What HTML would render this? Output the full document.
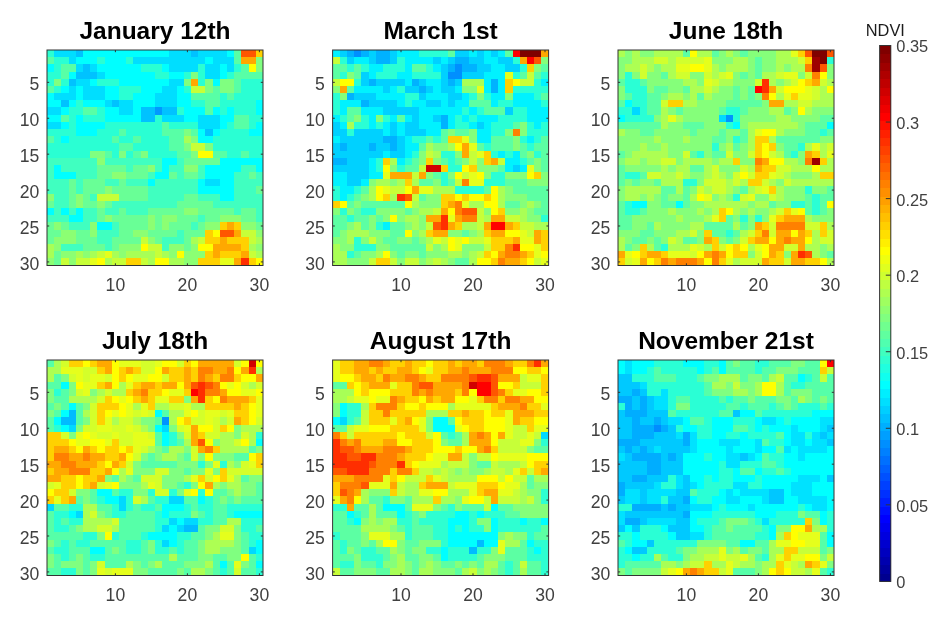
<!DOCTYPE html><html><head><meta charset="utf-8"><title>NDVI</title><style>html,body{margin:0;padding:0;background:#fff}svg{display:block}text{font-family:"Liberation Sans",Arial,Helvetica,sans-serif}.t{font-size:24.5px;font-weight:bold;fill:#000;text-anchor:middle}.x{font-size:17.6px;fill:#404040;text-anchor:middle}.y{font-size:17.6px;fill:#404040;text-anchor:end}.c{font-size:16.4px;fill:#404040}</style></head><body>
<svg width="944" height="624" viewBox="0 0 944 624">
<rect width="944" height="624" fill="#fff"/>
<defs><filter id="bl" x="-5%" y="-5%" width="110%" height="110%"><feGaussianBlur stdDeviation="0.55"/></filter></defs>
<clipPath id="cp0"><rect x="47" y="50" width="216" height="215.5"/></clipPath>
<g clip-path="url(#cp0)"><g filter="url(#bl)">
<svg x="47" y="50" width="216" height="215.5" viewBox="0 0 30 30" preserveAspectRatio="none" shape-rendering="crispEdges" overflow="visible">
<rect width="30" height="30" fill="#00ffff"/>
<path fill="#2cffd3" d="M0 0h1v1h-1zM1 1h2v1h-2zM7 1h1v1h-1zM11 1h1v1h-1zM1 2h1v1h-1zM13 2h3v1h-3zM21 2h1v1h-1zM26 2h1v1h-1zM0 3h2v1h-2zM15 3h2v1h-2zM19 3h1v1h-1zM21 3h1v1h-1zM25 3h1v1h-1zM0 4h1v1h-1zM2 4h1v1h-1zM7 4h3v1h-3zM21 4h1v1h-1zM27 4h3v1h-3zM1 5h1v1h-1zM10 5h3v1h-3zM19 5h1v1h-1zM27 5h3v1h-3zM10 6h2v1h-2zM24 6h1v1h-1zM26 6h4v1h-4zM4 7h1v1h-1zM20 7h2v1h-2zM24 7h5v1h-5zM3 8h2v1h-2zM7 8h1v1h-1zM18 8h1v1h-1zM24 8h1v1h-1zM26 8h3v1h-3zM3 9h1v1h-1zM5 9h3v1h-3zM15 9h1v1h-1zM28 9h2v1h-2zM3 10h1v1h-1zM8 10h8v1h-8zM17 10h4v1h-4zM25 10h1v1h-1zM28 10h1v1h-1zM0 11h4v1h-4zM7 11h3v1h-3zM11 11h5v1h-5zM24 11h4v1h-4zM1 12h1v1h-1zM3 12h6v1h-6zM10 12h2v1h-2zM13 12h4v1h-4zM23 12h7v1h-7zM0 13h10v1h-10zM12 13h5v1h-5zM23 13h7v1h-7zM0 14h6v1h-6zM9 14h1v1h-1zM11 14h1v1h-1zM14 14h4v1h-4zM25 14h2v1h-2zM28 14h2v1h-2z"/>
<path fill="#00deff" d="M1 0h3v1h-3zM17 0h3v1h-3zM21 0h4v1h-4zM3 1h1v1h-1zM12 1h10v1h-10zM23 1h3v1h-3zM4 2h1v1h-1zM6 2h1v1h-1zM17 2h4v1h-4zM22 2h2v1h-2zM25 2h1v1h-1zM7 3h1v1h-1zM22 3h2v1h-2zM4 4h2v1h-2zM17 4h2v1h-2zM3 5h1v1h-1zM5 5h3v1h-3zM16 5h2v1h-2zM1 6h3v1h-3zM5 6h3v1h-3zM15 6h3v1h-3zM8 7h1v1h-1zM10 7h2v1h-2zM15 7h3v1h-3zM0 8h2v1h-2zM10 8h2v1h-2zM16 9h3v1h-3zM21 9h3v1h-3zM0 10h2v1h-2zM21 10h3v1h-3zM22 18h2v1h-2z"/>
<path fill="#00c2ff" d="M4 0h1v1h-1zM20 0h1v1h-1zM5 2h1v1h-1zM4 3h3v1h-3zM3 4h1v1h-1zM2 7h1v1h-1zM9 7h1v1h-1zM13 8h2v1h-2zM16 8h2v1h-2zM13 9h2v1h-2zM22 11h1v1h-1z"/>
<path fill="#00ffff" d="M5 0h12v1h-12zM25 0h1v1h-1zM4 1h3v1h-3zM8 1h3v1h-3zM22 1h1v1h-1zM0 2h1v1h-1zM7 2h6v1h-6zM16 2h1v1h-1zM24 2h1v1h-1zM3 3h1v1h-1zM8 3h7v1h-7zM17 3h2v1h-2zM24 3h1v1h-1zM6 4h1v1h-1zM10 4h7v1h-7zM23 4h1v1h-1zM2 5h1v1h-1zM4 5h1v1h-1zM8 5h2v1h-2zM13 5h3v1h-3zM18 5h1v1h-1zM0 6h1v1h-1zM4 6h1v1h-1zM8 6h2v1h-2zM12 6h3v1h-3zM18 6h2v1h-2zM0 7h2v1h-2zM3 7h1v1h-1zM5 7h3v1h-3zM12 7h3v1h-3zM18 7h2v1h-2zM29 7h1v1h-1zM2 8h1v1h-1zM8 8h2v1h-2zM12 8h1v1h-1zM19 8h3v1h-3zM23 8h1v1h-1zM25 8h1v1h-1zM29 8h1v1h-1zM0 9h2v1h-2zM4 9h1v1h-1zM8 9h5v1h-5zM19 9h2v1h-2zM24 9h2v1h-2zM2 10h1v1h-1zM4 10h4v1h-4zM24 10h1v1h-1zM29 10h1v1h-1zM4 11h3v1h-3zM21 11h1v1h-1zM23 11h1v1h-1zM28 11h2v1h-2zM2 12h1v1h-1zM21 12h2v1h-2zM16 15h2v1h-2zM24 15h6v1h-6zM1 16h1v1h-1zM16 16h1v1h-1zM22 16h5v1h-5zM29 16h1v1h-1zM1 17h3v1h-3zM15 17h2v1h-2zM22 17h4v1h-4zM14 18h1v1h-1zM21 18h1v1h-1zM24 18h2v1h-2zM21 19h5v1h-5zM24 20h2v1h-2zM0 22h1v1h-1zM2 22h1v1h-1zM4 22h1v1h-1zM3 23h2v1h-2zM7 24h2v1h-2z"/>
<path fill="#59ffa6" d="M26 0h1v1h-1zM0 1h1v1h-1zM26 1h1v1h-1zM2 2h2v1h-2zM27 2h1v1h-1zM2 3h1v1h-1zM26 3h4v1h-4zM26 4h1v1h-1zM0 5h1v1h-1zM23 5h1v1h-1zM26 5h1v1h-1zM20 6h4v1h-4zM25 6h1v1h-1zM22 7h2v1h-2zM5 8h2v1h-2zM22 8h1v1h-1zM2 9h1v1h-1zM26 9h2v1h-2zM16 10h1v1h-1zM26 10h2v1h-2zM10 11h1v1h-1zM16 11h3v1h-3zM20 11h1v1h-1zM0 12h1v1h-1zM9 12h1v1h-1zM12 12h1v1h-1zM17 12h2v1h-2zM10 13h2v1h-2zM17 13h2v1h-2zM8 14h1v1h-1zM12 14h1v1h-1zM18 14h2v1h-2zM23 14h2v1h-2zM27 14h1v1h-1z"/>
<path fill="#ff5700" d="M27 0h2v1h-2zM24 25h2v1h-2z"/>
<path fill="#ffd100" d="M29 0h1v1h-1zM24 24h1v1h-1zM26 24h1v1h-1zM22 25h1v1h-1zM22 26h2v1h-2zM25 26h3v1h-3zM27 27h1v1h-1zM22 28h1v1h-1zM24 28h3v1h-3zM11 29h2v1h-2zM21 29h3v1h-3zM28 29h1v1h-1z"/>
<path fill="#ffa800" d="M27 1h2v1h-2zM20 4h1v1h-1zM25 24h1v1h-1zM26 25h1v1h-1zM24 26h1v1h-1zM23 27h4v1h-4zM23 28h1v1h-1zM27 28h1v1h-1zM26 29h1v1h-1z"/>
<path fill="#80ff80" d="M29 1h1v1h-1zM29 2h1v1h-1zM20 3h1v1h-1zM1 4h1v1h-1zM19 4h1v1h-1zM22 4h1v1h-1zM24 4h2v1h-2zM22 5h1v1h-1zM24 5h2v1h-2zM19 11h1v1h-1zM20 12h1v1h-1zM19 13h1v1h-1zM22 13h1v1h-1zM6 14h2v1h-2zM10 14h1v1h-1zM13 14h1v1h-1zM20 14h1v1h-1z"/>
<path fill="#ffff00" d="M28 2h1v1h-1zM21 14h2v1h-2zM23 25h1v1h-1zM13 27h1v1h-1zM21 27h2v1h-2zM18 28h1v1h-1zM7 29h1v1h-1zM15 29h2v1h-2zM29 29h1v1h-1z"/>
<path fill="#c7ff38" d="M20 5h2v1h-2zM20 13h2v1h-2zM7 20h3v1h-3zM27 25h2v1h-2zM13 26h1v1h-1zM21 26h1v1h-1zM28 26h1v1h-1zM14 27h2v1h-2zM7 28h1v1h-1zM15 28h1v1h-1zM28 28h1v1h-1zM2 29h1v1h-1zM4 29h2v1h-2zM9 29h2v1h-2zM13 29h1v1h-1z"/>
<path fill="#0099ff" d="M15 8h1v1h-1z"/>
<path fill="#a8ff57" d="M19 12h1v1h-1zM20 26h1v1h-1zM29 26h1v1h-1zM0 27h1v1h-1zM28 27h1v1h-1zM0 28h1v1h-1zM4 28h1v1h-1zM6 28h1v1h-1zM9 28h1v1h-1zM11 28h4v1h-4zM16 28h1v1h-1zM29 28h1v1h-1zM8 29h1v1h-1zM14 29h1v1h-1zM17 29h2v1h-2z"/>
<path fill="#3fffc0" d="M0 15h7v1h-7zM8 15h8v1h-8zM18 15h1v1h-1zM0 16h1v1h-1zM2 16h5v1h-5zM11 16h1v1h-1zM15 16h1v1h-1zM17 16h2v1h-2zM21 16h1v1h-1zM27 16h2v1h-2zM0 17h1v1h-1zM4 17h3v1h-3zM14 17h1v1h-1zM18 17h1v1h-1zM21 17h1v1h-1zM26 17h2v1h-2zM29 17h1v1h-1zM0 18h3v1h-3zM4 18h1v1h-1zM8 18h2v1h-2zM11 18h3v1h-3zM15 18h6v1h-6zM26 18h4v1h-4zM0 19h3v1h-3zM4 19h1v1h-1zM14 19h7v1h-7zM26 19h3v1h-3zM1 20h2v1h-2zM6 20h1v1h-1zM14 20h5v1h-5zM21 20h3v1h-3zM26 20h4v1h-4zM1 21h2v1h-2zM9 21h9v1h-9zM23 21h7v1h-7zM1 22h1v1h-1zM3 22h1v1h-1zM5 22h2v1h-2zM8 22h2v1h-2zM11 22h3v1h-3zM26 22h1v1h-1zM29 22h1v1h-1zM0 23h3v1h-3zM5 23h2v1h-2zM21 23h1v1h-1zM29 23h1v1h-1zM3 24h3v1h-3zM9 24h1v1h-1zM20 24h1v1h-1zM7 25h3v1h-3zM18 25h1v1h-1zM7 26h2v1h-2zM16 26h3v1h-3zM2 27h3v1h-3zM8 27h1v1h-1zM16 27h1v1h-1z"/>
<path fill="#8cff73" d="M7 15h1v1h-1zM14 16h1v1h-1zM19 16h2v1h-2zM9 17h2v1h-2zM8 19h1v1h-1zM0 20h1v1h-1zM4 20h1v1h-1zM4 21h1v1h-1zM7 21h1v1h-1zM19 22h2v1h-2zM8 23h1v1h-1zM14 23h1v1h-1zM16 23h2v1h-2zM24 23h3v1h-3zM1 24h1v1h-1zM6 24h1v1h-1zM14 24h1v1h-1zM16 24h1v1h-1zM22 24h2v1h-2zM27 24h2v1h-2zM2 25h2v1h-2zM6 25h1v1h-1zM12 25h2v1h-2zM29 25h1v1h-1zM1 26h3v1h-3zM14 26h1v1h-1zM1 27h1v1h-1zM10 27h3v1h-3zM17 27h2v1h-2zM20 27h1v1h-1zM29 27h1v1h-1zM2 28h2v1h-2zM5 28h1v1h-1zM10 28h1v1h-1zM17 28h1v1h-1zM19 28h3v1h-3zM0 29h1v1h-1zM3 29h1v1h-1zM19 29h2v1h-2z"/>
<path fill="#69ff96" d="M19 15h5v1h-5zM7 16h4v1h-4zM12 16h2v1h-2zM7 17h2v1h-2zM11 17h3v1h-3zM17 17h1v1h-1zM19 17h2v1h-2zM28 17h1v1h-1zM3 18h1v1h-1zM5 18h3v1h-3zM10 18h1v1h-1zM3 19h1v1h-1zM5 19h3v1h-3zM9 19h5v1h-5zM29 19h1v1h-1zM3 20h1v1h-1zM5 20h1v1h-1zM10 20h4v1h-4zM19 20h2v1h-2zM0 21h1v1h-1zM3 21h1v1h-1zM5 21h2v1h-2zM8 21h1v1h-1zM18 21h5v1h-5zM7 22h1v1h-1zM10 22h1v1h-1zM14 22h5v1h-5zM21 22h5v1h-5zM27 22h2v1h-2zM7 23h1v1h-1zM9 23h5v1h-5zM15 23h1v1h-1zM18 23h3v1h-3zM22 23h2v1h-2zM27 23h2v1h-2zM0 24h1v1h-1zM2 24h1v1h-1zM10 24h4v1h-4zM15 24h1v1h-1zM17 24h3v1h-3zM21 24h1v1h-1zM29 24h1v1h-1zM0 25h2v1h-2zM4 25h2v1h-2zM10 25h2v1h-2zM14 25h4v1h-4zM19 25h3v1h-3zM0 26h1v1h-1zM4 26h3v1h-3zM9 26h4v1h-4zM15 26h1v1h-1zM19 26h1v1h-1zM5 27h3v1h-3zM9 27h1v1h-1zM19 27h1v1h-1zM1 28h1v1h-1zM1 29h1v1h-1z"/>
<path fill="#e5ff1a" d="M8 28h1v1h-1zM6 29h1v1h-1zM24 29h2v1h-2z"/>
<path fill="#ff2e00" d="M27 29h1v1h-1z"/>
</svg></g></g>
<rect x="47" y="50" width="216" height="215.5" fill="none" stroke="#333" stroke-width="1"/>
<text class="x" x="115.4" y="291.0">10</text>
<text class="x" x="187.4" y="291.0">20</text>
<text class="x" x="259.4" y="291.0">30</text>
<text class="y" x="39.3" y="90.0">5</text>
<text class="y" x="39.3" y="125.9">10</text>
<text class="y" x="39.3" y="161.9">15</text>
<text class="y" x="39.3" y="197.8">20</text>
<text class="y" x="39.3" y="233.7">25</text>
<text class="y" x="39.3" y="269.6">30</text>
<path d="M115.40 265.50v-2.2M115.40 50.00v2.2M187.40 265.50v-2.2M187.40 50.00v2.2M259.40 265.50v-2.2M259.40 50.00v2.2M47.00 82.33h2.2M263.00 82.33h-2.2M47.00 118.24h2.2M263.00 118.24h-2.2M47.00 154.16h2.2M263.00 154.16h-2.2M47.00 190.08h2.2M263.00 190.08h-2.2M47.00 225.99h2.2M263.00 225.99h-2.2M47.00 261.91h2.2M263.00 261.91h-2.2" stroke="#333" stroke-width="1" fill="none"/>
<text class="t" x="155.0" y="39.0">January 12th</text>
<clipPath id="cp1"><rect x="332.6" y="50" width="216" height="215.5"/></clipPath>
<g clip-path="url(#cp1)"><g filter="url(#bl)">
<svg x="332.6" y="50" width="216" height="215.5" viewBox="0 0 30 30" preserveAspectRatio="none" shape-rendering="crispEdges" overflow="visible">
<rect width="30" height="30" fill="#00ffff"/>
<path fill="#00f2ff" d="M0 0h1v1h-1zM9 0h3v1h-3zM19 0h1v1h-1zM21 0h1v1h-1zM23 0h1v1h-1zM3 1h2v1h-2zM10 1h4v1h-4zM15 1h1v1h-1zM21 1h2v1h-2zM5 2h2v1h-2zM10 2h1v1h-1zM14 2h1v1h-1zM22 2h2v1h-2zM5 3h1v1h-1zM9 3h2v1h-2zM21 3h3v1h-3zM10 4h1v1h-1zM13 4h2v1h-2zM21 4h1v1h-1zM23 4h1v1h-1zM29 4h1v1h-1zM3 5h4v1h-4zM8 5h1v1h-1zM14 5h1v1h-1zM17 5h1v1h-1zM21 5h1v1h-1zM23 5h1v1h-1zM6 6h4v1h-4zM13 6h3v1h-3zM18 6h1v1h-1zM22 6h2v1h-2zM25 6h3v1h-3zM1 7h3v1h-3zM9 7h1v1h-1zM11 7h2v1h-2zM15 7h1v1h-1zM17 7h2v1h-2zM22 7h1v1h-1zM25 7h4v1h-4zM1 8h1v1h-1zM4 8h3v1h-3zM12 8h6v1h-6zM19 8h1v1h-1zM27 8h3v1h-3zM0 9h1v1h-1zM5 9h1v1h-1zM8 9h1v1h-1zM10 9h1v1h-1zM12 9h2v1h-2zM16 9h1v1h-1zM18 9h1v1h-1zM20 9h3v1h-3zM27 9h3v1h-3zM1 10h1v1h-1zM5 10h1v1h-1zM7 10h1v1h-1zM9 10h1v1h-1zM12 10h3v1h-3zM16 10h1v1h-1zM19 10h1v1h-1zM21 10h1v1h-1zM28 10h1v1h-1zM7 11h1v1h-1zM9 11h1v1h-1zM13 11h2v1h-2zM20 11h2v1h-2zM0 12h1v1h-1zM10 12h1v1h-1zM20 12h2v1h-2zM27 12h1v1h-1zM10 13h2v1h-2zM7 14h1v1h-1zM10 14h1v1h-1zM23 14h1v1h-1zM25 14h1v1h-1zM5 15h1v1h-1zM9 15h1v1h-1zM24 15h2v1h-2zM5 16h1v1h-1zM24 16h1v1h-1zM26 16h1v1h-1zM0 17h2v1h-2zM5 17h2v1h-2zM0 18h2v1h-2zM4 18h1v1h-1zM1 19h2v1h-2zM1 20h1v1h-1zM7 24h1v1h-1z"/>
<path fill="#00d1ff" d="M1 0h1v1h-1zM5 0h1v1h-1zM8 0h1v1h-1zM17 0h2v1h-2zM20 0h1v1h-1zM22 0h1v1h-1zM2 1h1v1h-1zM5 1h1v1h-1zM8 1h1v1h-1zM14 1h1v1h-1zM16 1h1v1h-1zM19 1h2v1h-2zM23 1h2v1h-2zM15 2h1v1h-1zM20 2h2v1h-2zM24 2h2v1h-2zM4 3h1v1h-1zM15 3h1v1h-1zM18 3h3v1h-3zM4 4h1v1h-1zM6 4h4v1h-4zM12 4h1v1h-1zM15 4h1v1h-1zM17 4h1v1h-1zM7 5h1v1h-1zM10 5h2v1h-2zM13 5h1v1h-1zM15 5h2v1h-2zM3 6h3v1h-3zM12 6h1v1h-1zM16 6h2v1h-2zM5 7h4v1h-4zM13 7h2v1h-2zM16 7h1v1h-1zM7 8h5v1h-5zM24 8h1v1h-1zM11 9h1v1h-1zM14 9h1v1h-1zM0 10h1v1h-1zM8 10h1v1h-1zM10 10h2v1h-2zM20 10h1v1h-1zM0 11h2v1h-2zM3 11h4v1h-4zM8 11h1v1h-1zM10 11h3v1h-3zM1 12h6v1h-6zM9 12h1v1h-1zM0 13h1v1h-1zM2 13h3v1h-3zM6 13h2v1h-2zM9 13h1v1h-1zM0 14h7v1h-7zM8 14h2v1h-2zM2 15h3v1h-3zM0 16h5v1h-5zM25 16h1v1h-1zM2 17h3v1h-3zM2 18h2v1h-2z"/>
<path fill="#00b2ff" d="M2 0h1v1h-1zM4 0h1v1h-1zM6 0h2v1h-2zM6 1h2v1h-2zM17 1h2v1h-2zM16 2h1v1h-1zM18 2h2v1h-2zM5 4h1v1h-1zM11 4h1v1h-1zM16 4h1v1h-1zM22 4h1v1h-1zM12 5h1v1h-1zM22 5h1v1h-1zM2 6h1v1h-1zM4 7h1v1h-1zM15 9h1v1h-1zM15 10h1v1h-1zM7 12h2v1h-2zM1 13h1v1h-1zM5 13h1v1h-1zM8 13h1v1h-1zM0 15h2v1h-2z"/>
<path fill="#008fff" d="M3 0h1v1h-1zM17 2h1v1h-1zM16 3h2v1h-2z"/>
<path fill="#2affd5" d="M12 0h4v1h-4zM1 1h1v1h-1zM9 1h1v1h-1zM25 1h1v1h-1zM2 2h1v1h-1zM4 2h1v1h-1zM7 2h3v1h-3zM13 2h1v1h-1zM26 2h1v1h-1zM1 3h1v1h-1zM6 3h3v1h-3zM11 3h4v1h-4zM25 3h1v1h-1zM29 3h1v1h-1zM3 4h1v1h-1zM28 4h1v1h-1zM9 5h1v1h-1zM25 5h5v1h-5zM0 6h1v1h-1zM10 6h2v1h-2zM19 6h1v1h-1zM21 6h1v1h-1zM28 6h1v1h-1zM0 7h1v1h-1zM10 7h1v1h-1zM23 7h2v1h-2zM29 7h1v1h-1zM0 8h1v1h-1zM18 8h1v1h-1zM20 8h1v1h-1zM25 8h2v1h-2zM1 9h1v1h-1zM4 9h1v1h-1zM7 9h1v1h-1zM17 9h1v1h-1zM19 9h1v1h-1zM23 9h4v1h-4zM3 10h2v1h-2zM6 10h1v1h-1zM17 10h2v1h-2zM22 10h3v1h-3zM27 10h1v1h-1zM29 10h1v1h-1zM2 11h1v1h-1zM22 11h2v1h-2zM27 11h3v1h-3zM11 12h2v1h-2zM14 12h1v1h-1zM26 12h1v1h-1zM28 12h1v1h-1zM21 13h1v1h-1zM27 13h1v1h-1zM11 14h1v1h-1zM15 14h2v1h-2zM22 14h1v1h-1zM24 14h1v1h-1zM28 14h1v1h-1zM6 15h1v1h-1zM10 15h1v1h-1zM16 15h1v1h-1zM26 15h1v1h-1zM6 16h1v1h-1zM9 16h1v1h-1zM16 16h2v1h-2zM15 17h1v1h-1zM22 17h2v1h-2zM15 18h1v1h-1zM21 18h3v1h-3zM0 19h1v1h-1zM3 19h1v1h-1zM17 19h4v1h-4zM0 20h1v1h-1zM2 20h1v1h-1zM1 22h1v1h-1zM4 22h2v1h-2zM2 23h1v1h-1zM29 23h1v1h-1zM6 24h1v1h-1zM3 26h1v1h-1zM3 27h3v1h-3zM2 28h1v1h-1z"/>
<path fill="#5cffa3" d="M16 0h1v1h-1zM24 0h1v1h-1zM0 2h2v1h-2zM3 2h1v1h-1zM11 2h2v1h-2zM29 2h1v1h-1zM0 3h1v1h-1zM3 3h1v1h-1zM26 3h1v1h-1zM28 3h1v1h-1zM2 5h1v1h-1zM29 6h1v1h-1zM19 7h3v1h-3zM2 8h2v1h-2zM21 8h3v1h-3zM2 9h1v1h-1zM9 9h1v1h-1zM25 10h1v1h-1zM15 11h1v1h-1zM17 11h2v1h-2zM13 12h1v1h-1zM15 12h1v1h-1zM22 12h3v1h-3zM29 12h1v1h-1zM12 13h1v1h-1zM20 13h1v1h-1zM22 13h3v1h-3zM26 13h1v1h-1zM28 13h2v1h-2zM26 14h1v1h-1zM29 14h1v1h-1zM11 15h1v1h-1zM15 15h1v1h-1zM17 15h1v1h-1zM27 15h1v1h-1zM29 15h1v1h-1zM10 16h2v1h-2zM23 16h1v1h-1zM29 16h1v1h-1zM14 17h1v1h-1zM12 18h2v1h-2zM16 18h1v1h-1zM24 18h3v1h-3zM4 19h1v1h-1zM21 19h1v1h-1zM25 19h5v1h-5zM3 20h1v1h-1zM12 20h1v1h-1zM27 20h3v1h-3zM2 21h1v1h-1zM4 21h6v1h-6zM24 21h2v1h-2zM29 21h1v1h-1zM3 22h1v1h-1zM10 22h1v1h-1zM28 22h2v1h-2zM0 23h2v1h-2zM3 23h2v1h-2zM6 23h1v1h-1zM0 24h2v1h-2zM4 24h1v1h-1zM8 24h2v1h-2zM0 25h1v1h-1zM8 25h2v1h-2zM18 25h1v1h-1zM7 26h2v1h-2zM11 26h1v1h-1zM8 27h5v1h-5zM3 28h1v1h-1zM9 28h1v1h-1zM12 28h1v1h-1zM17 29h2v1h-2z"/>
<path fill="#ff0000" d="M25 0h1v1h-1zM27 1h1v1h-1zM22 24h2v1h-2z"/>
<path fill="#800000" d="M26 0h3v1h-3z"/>
<path fill="#ffa800" d="M29 0h1v1h-1zM26 1h1v1h-1zM1 5h1v1h-1zM18 13h1v1h-1zM18 14h1v1h-1zM22 15h1v1h-1zM8 17h3v1h-3zM12 17h1v1h-1zM11 19h1v1h-1zM16 21h1v1h-1zM15 22h1v1h-1zM13 23h2v1h-2zM17 23h1v1h-1zM22 23h2v1h-2zM16 24h1v1h-1zM21 24h1v1h-1zM24 24h1v1h-1zM14 25h2v1h-2zM22 25h2v1h-2zM28 25h1v1h-1zM25 26h1v1h-1zM28 26h1v1h-1zM23 28h1v1h-1zM26 28h1v1h-1zM24 29h2v1h-2z"/>
<path fill="#c7ff38" d="M0 1h1v1h-1zM27 3h1v1h-1zM0 4h1v1h-1zM26 4h2v1h-2zM13 14h1v1h-1zM19 14h1v1h-1zM19 15h1v1h-1zM23 15h1v1h-1zM12 16h1v1h-1zM11 17h1v1h-1zM18 17h1v1h-1zM17 18h1v1h-1zM8 19h2v1h-2zM11 20h1v1h-1zM14 22h1v1h-1zM20 22h1v1h-1zM20 23h1v1h-1zM24 23h2v1h-2zM13 24h1v1h-1zM20 24h1v1h-1zM26 24h2v1h-2zM27 25h1v1h-1zM5 26h1v1h-1zM15 26h1v1h-1zM19 26h2v1h-2zM13 27h1v1h-1zM21 27h1v1h-1zM20 28h1v1h-1zM5 29h1v1h-1zM8 29h1v1h-1zM10 29h2v1h-2zM14 29h1v1h-1zM28 29h1v1h-1z"/>
<path fill="#ff5700" d="M28 1h1v1h-1zM10 20h1v1h-1zM18 22h2v1h-2zM14 24h1v1h-1z"/>
<path fill="#85ff7a" d="M29 1h1v1h-1zM28 2h1v1h-1zM2 3h1v1h-1zM0 5h1v1h-1zM18 5h2v1h-2zM1 6h1v1h-1zM20 6h1v1h-1zM24 6h1v1h-1zM3 9h1v1h-1zM6 9h1v1h-1zM26 10h1v1h-1zM16 11h1v1h-1zM19 11h1v1h-1zM24 11h1v1h-1zM26 11h1v1h-1zM19 12h1v1h-1zM25 12h1v1h-1zM14 13h2v1h-2zM25 13h1v1h-1zM12 14h1v1h-1zM17 14h1v1h-1zM27 14h1v1h-1zM12 15h1v1h-1zM14 15h1v1h-1zM18 15h1v1h-1zM20 15h1v1h-1zM28 15h1v1h-1zM8 16h1v1h-1zM20 16h3v1h-3zM28 16h1v1h-1zM13 17h1v1h-1zM16 17h1v1h-1zM21 17h1v1h-1zM24 17h3v1h-3zM29 17h1v1h-1zM5 18h1v1h-1zM8 18h1v1h-1zM14 18h1v1h-1zM27 18h3v1h-3zM24 19h1v1h-1zM4 20h1v1h-1zM13 20h2v1h-2zM24 20h3v1h-3zM3 21h1v1h-1zM12 21h3v1h-3zM26 21h1v1h-1zM28 21h1v1h-1zM0 22h1v1h-1zM2 22h1v1h-1zM6 22h4v1h-4zM11 22h1v1h-1zM21 22h1v1h-1zM24 22h2v1h-2zM27 22h1v1h-1zM5 23h1v1h-1zM7 23h1v1h-1zM9 23h1v1h-1zM12 23h1v1h-1zM27 23h2v1h-2zM2 24h1v1h-1zM5 24h1v1h-1zM10 24h1v1h-1zM12 24h1v1h-1zM1 25h1v1h-1zM5 25h3v1h-3zM11 25h1v1h-1zM16 25h2v1h-2zM19 25h1v1h-1zM0 26h2v1h-2zM4 26h1v1h-1zM6 26h1v1h-1zM9 26h2v1h-2zM12 26h1v1h-1zM1 27h2v1h-2zM6 27h2v1h-2zM14 27h1v1h-1zM18 27h3v1h-3zM4 28h2v1h-2zM8 28h1v1h-1zM10 28h2v1h-2zM13 28h3v1h-3zM18 28h1v1h-1zM2 29h3v1h-3zM9 29h1v1h-1zM12 29h1v1h-1zM16 29h1v1h-1z"/>
<path fill="#ffd100" d="M27 2h1v1h-1zM24 4h1v1h-1zM24 5h1v1h-1zM16 12h2v1h-2zM21 14h1v1h-1zM7 15h1v1h-1zM13 15h1v1h-1zM21 15h1v1h-1zM15 16h1v1h-1zM19 16h1v1h-1zM28 17h1v1h-1zM10 18h1v1h-1zM7 20h1v1h-1zM15 20h2v1h-2zM18 20h1v1h-1zM21 20h1v1h-1zM0 21h1v1h-1zM15 21h1v1h-1zM23 22h1v1h-1zM17 24h1v1h-1zM25 24h1v1h-1zM13 25h1v1h-1zM21 25h1v1h-1zM29 25h1v1h-1zM22 26h3v1h-3zM29 26h1v1h-1zM22 27h2v1h-2zM29 27h1v1h-1zM21 28h1v1h-1zM27 28h1v1h-1zM6 29h2v1h-2zM22 29h1v1h-1zM26 29h1v1h-1z"/>
<path fill="#e5ff1a" d="M24 3h1v1h-1zM20 5h1v1h-1zM18 12h1v1h-1zM19 13h1v1h-1zM20 14h1v1h-1zM27 16h1v1h-1zM7 17h1v1h-1zM19 17h1v1h-1zM19 18h2v1h-2zM7 19h1v1h-1zM12 19h2v1h-2zM18 21h1v1h-1zM16 23h1v1h-1zM26 25h1v1h-1zM14 26h1v1h-1zM17 26h1v1h-1zM21 26h1v1h-1zM26 26h2v1h-2zM17 27h1v1h-1zM28 27h1v1h-1zM28 28h1v1h-1zM29 29h1v1h-1z"/>
<path fill="#ffff00" d="M1 4h2v1h-2zM25 4h1v1h-1zM17 13h1v1h-1zM7 16h1v1h-1zM18 16h1v1h-1zM17 17h1v1h-1zM20 17h1v1h-1zM27 17h1v1h-1zM6 19h1v1h-1zM10 19h1v1h-1zM22 19h1v1h-1zM6 20h1v1h-1zM17 20h1v1h-1zM19 20h2v1h-2zM22 20h1v1h-1zM1 21h1v1h-1zM10 21h1v1h-1zM21 21h2v1h-2zM16 22h1v1h-1zM22 22h1v1h-1zM8 23h1v1h-1zM10 25h1v1h-1zM24 25h2v1h-2zM16 26h1v1h-1zM18 26h1v1h-1zM16 27h1v1h-1zM26 27h2v1h-2zM7 28h1v1h-1zM22 28h1v1h-1zM29 28h1v1h-1zM20 29h2v1h-2zM27 29h1v1h-1z"/>
<path fill="#aaff55" d="M18 4h3v1h-3zM2 10h1v1h-1zM13 13h1v1h-1zM16 13h1v1h-1zM14 14h1v1h-1zM8 15h1v1h-1zM6 18h2v1h-2zM9 18h1v1h-1zM11 18h1v1h-1zM5 19h1v1h-1zM14 19h3v1h-3zM23 19h1v1h-1zM5 20h1v1h-1zM8 20h1v1h-1zM23 20h1v1h-1zM11 21h1v1h-1zM19 21h2v1h-2zM23 21h1v1h-1zM27 21h1v1h-1zM12 22h2v1h-2zM26 22h1v1h-1zM10 23h2v1h-2zM21 23h1v1h-1zM26 23h1v1h-1zM3 24h1v1h-1zM11 24h1v1h-1zM18 24h2v1h-2zM28 24h2v1h-2zM2 25h3v1h-3zM12 25h1v1h-1zM20 25h1v1h-1zM2 26h1v1h-1zM13 26h1v1h-1zM0 27h1v1h-1zM15 27h1v1h-1zM0 28h2v1h-2zM6 28h1v1h-1zM16 28h2v1h-2zM19 28h1v1h-1zM0 29h2v1h-2zM13 29h1v1h-1zM15 29h1v1h-1zM19 29h1v1h-1z"/>
<path fill="#ff8000" d="M25 11h1v1h-1zM18 18h1v1h-1zM17 21h1v1h-1zM17 22h1v1h-1zM18 23h2v1h-2zM24 27h1v1h-1zM24 28h2v1h-2zM23 29h1v1h-1z"/>
<path fill="#d10000" d="M13 16h2v1h-2z"/>
<path fill="#ff2e00" d="M9 20h1v1h-1zM15 23h1v1h-1zM15 24h1v1h-1zM25 27h1v1h-1z"/>
</svg></g></g>
<rect x="332.6" y="50" width="216" height="215.5" fill="none" stroke="#333" stroke-width="1"/>
<text class="x" x="401.0" y="291.0">10</text>
<text class="x" x="473.0" y="291.0">20</text>
<text class="x" x="545.0" y="291.0">30</text>
<text class="y" x="324.9" y="90.0">5</text>
<text class="y" x="324.9" y="125.9">10</text>
<text class="y" x="324.9" y="161.9">15</text>
<text class="y" x="324.9" y="197.8">20</text>
<text class="y" x="324.9" y="233.7">25</text>
<text class="y" x="324.9" y="269.6">30</text>
<path d="M401.00 265.50v-2.2M401.00 50.00v2.2M473.00 265.50v-2.2M473.00 50.00v2.2M545.00 265.50v-2.2M545.00 50.00v2.2M332.60 82.33h2.2M548.60 82.33h-2.2M332.60 118.24h2.2M548.60 118.24h-2.2M332.60 154.16h2.2M548.60 154.16h-2.2M332.60 190.08h2.2M548.60 190.08h-2.2M332.60 225.99h2.2M548.60 225.99h-2.2M332.60 261.91h2.2M548.60 261.91h-2.2" stroke="#333" stroke-width="1" fill="none"/>
<text class="t" x="440.6" y="39.0">March 1st</text>
<clipPath id="cp2"><rect x="618" y="50" width="216" height="215.5"/></clipPath>
<g clip-path="url(#cp2)"><g filter="url(#bl)">
<svg x="618" y="50" width="216" height="215.5" viewBox="0 0 30 30" preserveAspectRatio="none" shape-rendering="crispEdges" overflow="visible">
<rect width="30" height="30" fill="#00ffff"/>
<path fill="#adff52" d="M0 0h1v1h-1zM2 0h1v1h-1zM5 0h4v1h-4zM11 0h2v1h-2zM15 0h1v1h-1zM22 0h2v1h-2zM2 1h3v1h-3zM7 1h1v1h-1zM16 1h2v1h-2zM22 1h3v1h-3zM1 2h2v1h-2zM4 2h1v1h-1zM6 2h2v1h-2zM13 2h1v1h-1zM15 2h3v1h-3zM22 2h1v1h-1zM24 2h2v1h-2zM7 3h1v1h-1zM13 3h1v1h-1zM20 3h2v1h-2zM9 4h2v1h-2zM14 4h2v1h-2zM21 4h1v1h-1zM23 4h1v1h-1zM29 4h1v1h-1zM10 5h2v1h-2zM13 5h1v1h-1zM28 5h1v1h-1zM7 6h2v1h-2zM10 6h1v1h-1zM12 6h1v1h-1zM22 6h1v1h-1zM28 6h2v1h-2zM9 7h2v1h-2zM23 7h2v1h-2zM27 7h3v1h-3zM6 8h1v1h-1zM21 8h2v1h-2zM26 8h1v1h-1zM6 9h1v1h-1zM8 9h1v1h-1zM22 9h2v1h-2zM6 10h1v1h-1zM18 10h7v1h-7zM0 11h1v1h-1zM18 11h1v1h-1zM22 11h1v1h-1zM5 12h1v1h-1zM9 12h1v1h-1zM18 12h1v1h-1zM21 12h1v1h-1zM3 13h1v1h-1zM6 13h1v1h-1zM15 13h1v1h-1zM18 13h1v1h-1zM26 13h1v1h-1zM28 13h1v1h-1zM2 14h5v1h-5zM22 14h1v1h-1zM28 14h1v1h-1zM1 15h2v1h-2zM4 15h2v1h-2zM9 15h4v1h-4zM14 15h2v1h-2zM23 15h2v1h-2zM29 15h1v1h-1zM6 16h1v1h-1zM8 16h2v1h-2zM12 16h1v1h-1zM18 16h1v1h-1zM24 16h3v1h-3zM28 16h2v1h-2zM6 17h2v1h-2zM9 17h1v1h-1zM12 17h1v1h-1zM14 17h1v1h-1zM23 17h1v1h-1zM27 17h1v1h-1zM6 18h3v1h-3zM15 18h1v1h-1zM17 18h1v1h-1zM21 18h1v1h-1zM24 18h6v1h-6zM1 19h5v1h-5zM8 19h1v1h-1zM12 19h1v1h-1zM15 19h1v1h-1zM18 19h1v1h-1zM22 19h1v1h-1zM1 20h2v1h-2zM4 20h1v1h-1zM10 20h1v1h-1zM14 20h1v1h-1zM22 20h1v1h-1zM12 21h6v1h-6zM19 21h2v1h-2zM7 22h1v1h-1zM11 22h1v1h-1zM13 22h1v1h-1zM16 22h1v1h-1zM18 22h1v1h-1zM21 22h1v1h-1zM8 23h1v1h-1zM12 23h1v1h-1zM26 23h1v1h-1zM5 24h1v1h-1zM10 24h2v1h-2zM16 24h1v1h-1zM29 24h1v1h-1zM8 25h2v1h-2zM17 25h1v1h-1zM27 25h1v1h-1zM0 26h1v1h-1zM8 26h1v1h-1zM27 26h1v1h-1zM0 27h1v1h-1zM4 27h1v1h-1zM7 27h3v1h-3zM12 27h1v1h-1zM18 27h1v1h-1zM26 27h2v1h-2zM29 27h1v1h-1zM27 28h1v1h-1zM16 29h1v1h-1zM29 29h1v1h-1z"/>
<path fill="#85ff7a" d="M1 0h1v1h-1zM3 0h2v1h-2zM14 0h1v1h-1zM16 0h1v1h-1zM18 0h4v1h-4zM0 1h2v1h-2zM13 1h3v1h-3zM18 1h1v1h-1zM20 1h2v1h-2zM0 2h1v1h-1zM5 2h1v1h-1zM14 2h1v1h-1zM18 2h1v1h-1zM20 2h2v1h-2zM23 2h1v1h-1zM29 2h1v1h-1zM0 3h1v1h-1zM2 3h1v1h-1zM4 3h2v1h-2zM10 3h2v1h-2zM16 3h1v1h-1zM18 3h1v1h-1zM25 3h1v1h-1zM29 3h1v1h-1zM4 4h5v1h-5zM11 4h1v1h-1zM16 4h3v1h-3zM22 4h1v1h-1zM0 5h1v1h-1zM4 5h1v1h-1zM7 5h2v1h-2zM14 5h2v1h-2zM17 5h1v1h-1zM0 6h1v1h-1zM6 6h1v1h-1zM9 6h1v1h-1zM13 6h3v1h-3zM17 6h1v1h-1zM19 6h1v1h-1zM11 7h4v1h-4zM20 7h1v1h-1zM7 8h1v1h-1zM9 8h5v1h-5zM18 8h3v1h-3zM24 8h1v1h-1zM27 8h3v1h-3zM5 9h1v1h-1zM9 9h5v1h-5zM17 9h5v1h-5zM24 9h4v1h-4zM7 10h2v1h-2zM12 10h3v1h-3zM17 10h1v1h-1zM25 10h1v1h-1zM1 11h2v1h-2zM5 11h5v1h-5zM11 11h3v1h-3zM15 11h2v1h-2zM23 11h3v1h-3zM0 12h5v1h-5zM6 12h3v1h-3zM10 12h3v1h-3zM15 12h1v1h-1zM28 12h2v1h-2zM0 13h3v1h-3zM4 13h2v1h-2zM7 13h6v1h-6zM14 13h1v1h-1zM17 13h1v1h-1zM22 13h1v1h-1zM1 14h1v1h-1zM7 14h2v1h-2zM12 14h1v1h-1zM16 14h2v1h-2zM25 14h1v1h-1zM0 15h1v1h-1zM3 15h1v1h-1zM8 15h1v1h-1zM13 15h1v1h-1zM17 15h2v1h-2zM25 15h1v1h-1zM1 16h5v1h-5zM7 16h1v1h-1zM14 16h3v1h-3zM10 17h2v1h-2zM15 17h1v1h-1zM24 17h3v1h-3zM1 18h1v1h-1zM3 18h2v1h-2zM11 18h1v1h-1zM22 18h1v1h-1zM0 19h1v1h-1zM10 19h1v1h-1zM16 19h1v1h-1zM23 19h3v1h-3zM27 19h2v1h-2zM0 20h1v1h-1zM3 20h1v1h-1zM5 20h1v1h-1zM7 20h2v1h-2zM13 20h1v1h-1zM15 20h1v1h-1zM19 20h2v1h-2zM23 20h3v1h-3zM4 21h2v1h-2zM10 21h2v1h-2zM18 21h1v1h-1zM22 21h2v1h-2zM4 22h3v1h-3zM8 22h3v1h-3zM12 22h1v1h-1zM17 22h1v1h-1zM19 22h2v1h-2zM29 22h1v1h-1zM2 23h6v1h-6zM9 23h3v1h-3zM16 23h1v1h-1zM18 23h1v1h-1zM20 23h1v1h-1zM27 23h3v1h-3zM2 24h2v1h-2zM6 24h4v1h-4zM18 24h1v1h-1zM0 25h3v1h-3zM5 25h3v1h-3zM11 25h1v1h-1zM1 26h1v1h-1zM4 26h1v1h-1zM6 26h1v1h-1zM11 26h1v1h-1zM14 26h1v1h-1zM16 26h1v1h-1zM2 27h1v1h-1zM28 27h1v1h-1zM18 28h1v1h-1zM23 28h1v1h-1zM28 28h1v1h-1z"/>
<path fill="#5cffa3" d="M9 0h1v1h-1zM13 0h1v1h-1zM17 0h1v1h-1zM19 1h1v1h-1zM19 2h1v1h-1zM6 3h1v1h-1zM17 3h1v1h-1zM19 3h1v1h-1zM0 4h1v1h-1zM3 4h1v1h-1zM5 5h2v1h-2zM9 5h1v1h-1zM16 5h1v1h-1zM18 5h1v1h-1zM1 6h1v1h-1zM4 6h2v1h-2zM11 6h1v1h-1zM16 6h1v1h-1zM18 6h1v1h-1zM0 7h1v1h-1zM4 7h2v1h-2zM15 7h5v1h-5zM4 8h2v1h-2zM8 8h1v1h-1zM14 8h1v1h-1zM17 8h1v1h-1zM23 8h1v1h-1zM28 9h2v1h-2zM0 10h6v1h-6zM9 10h3v1h-3zM26 10h3v1h-3zM3 11h2v1h-2zM10 11h1v1h-1zM14 11h1v1h-1zM17 11h1v1h-1zM26 11h2v1h-2zM29 11h1v1h-1zM13 12h2v1h-2zM17 12h1v1h-1zM22 12h6v1h-6zM16 13h1v1h-1zM23 13h2v1h-2zM0 14h1v1h-1zM10 14h1v1h-1zM13 14h2v1h-2zM23 14h1v1h-1zM0 16h1v1h-1zM10 16h2v1h-2zM0 17h1v1h-1zM3 17h1v1h-1zM0 18h1v1h-1zM2 18h1v1h-1zM5 18h1v1h-1zM6 19h2v1h-2zM9 19h1v1h-1zM17 19h1v1h-1zM29 19h1v1h-1zM6 20h1v1h-1zM9 20h1v1h-1zM26 20h1v1h-1zM28 20h2v1h-2zM0 21h1v1h-1zM6 21h2v1h-2zM9 21h1v1h-1zM21 21h1v1h-1zM26 21h1v1h-1zM28 21h1v1h-1zM0 22h1v1h-1zM3 22h1v1h-1zM26 22h1v1h-1zM28 22h1v1h-1zM0 23h2v1h-2zM15 23h1v1h-1zM0 24h2v1h-2zM4 24h1v1h-1zM12 24h4v1h-4zM17 24h1v1h-1zM3 25h2v1h-2zM13 25h2v1h-2zM16 25h1v1h-1zM2 26h2v1h-2zM5 26h1v1h-1zM9 26h2v1h-2zM15 26h1v1h-1zM1 27h1v1h-1zM5 27h1v1h-1zM29 28h1v1h-1z"/>
<path fill="#ffff00" d="M10 0h1v1h-1zM10 2h2v1h-2zM28 3h1v1h-1zM25 4h1v1h-1zM23 5h3v1h-3zM29 5h1v1h-1zM21 6h1v1h-1zM25 8h1v1h-1zM20 11h2v1h-2zM20 13h1v1h-1zM20 14h1v1h-1zM21 15h2v1h-2zM27 16h1v1h-1zM17 17h1v1h-1zM11 20h1v1h-1zM29 21h1v1h-1zM15 22h1v1h-1zM25 22h1v1h-1zM24 25h1v1h-1zM21 26h1v1h-1zM26 26h1v1h-1zM15 27h1v1h-1zM17 27h1v1h-1zM20 27h1v1h-1zM2 28h1v1h-1zM11 28h1v1h-1zM15 28h1v1h-1zM20 28h1v1h-1zM4 29h1v1h-1zM12 29h1v1h-1zM28 29h1v1h-1z"/>
<path fill="#e5ff1a" d="M24 0h1v1h-1zM12 1h1v1h-1zM8 2h2v1h-2zM12 2h1v1h-1zM15 3h1v1h-1zM23 3h2v1h-2zM12 4h1v1h-1zM26 5h1v1h-1zM23 6h1v1h-1zM25 6h2v1h-2zM7 9h1v1h-1zM19 11h1v1h-1zM27 13h1v1h-1zM29 14h1v1h-1zM21 17h1v1h-1zM20 19h1v1h-1zM12 20h1v1h-1zM18 20h1v1h-1zM24 22h1v1h-1zM13 23h1v1h-1zM21 23h1v1h-1zM10 27h1v1h-1zM19 27h1v1h-1zM1 28h1v1h-1zM7 28h3v1h-3zM2 29h1v1h-1zM15 29h1v1h-1z"/>
<path fill="#ffd100" d="M25 0h1v1h-1zM26 1h1v1h-1zM26 4h1v1h-1zM24 6h1v1h-1zM7 7h2v1h-2zM19 12h2v1h-2zM19 13h1v1h-1zM21 13h1v1h-1zM19 14h1v1h-1zM27 14h1v1h-1zM16 15h1v1h-1zM28 15h1v1h-1zM20 16h2v1h-2zM19 17h2v1h-2zM28 17h2v1h-2zM18 18h2v1h-2zM21 19h1v1h-1zM14 22h1v1h-1zM23 22h1v1h-1zM14 23h1v1h-1zM22 23h1v1h-1zM20 24h1v1h-1zM28 24h1v1h-1zM12 25h1v1h-1zM19 25h1v1h-1zM26 25h1v1h-1zM28 25h1v1h-1zM13 26h1v1h-1zM18 26h1v1h-1zM3 27h1v1h-1zM13 27h1v1h-1zM16 27h1v1h-1zM3 28h1v1h-1zM6 28h1v1h-1zM16 28h2v1h-2zM22 28h1v1h-1zM0 29h1v1h-1zM5 29h1v1h-1zM14 29h1v1h-1zM21 29h2v1h-2zM26 29h2v1h-2z"/>
<path fill="#ff5700" d="M26 0h1v1h-1zM29 0h1v1h-1zM28 2h1v1h-1zM26 28h1v1h-1z"/>
<path fill="#800000" d="M27 0h2v1h-2zM28 1h1v1h-1z"/>
<path fill="#d1ff2e" d="M5 1h2v1h-2zM8 1h4v1h-4zM25 1h1v1h-1zM3 2h1v1h-1zM3 3h1v1h-1zM8 3h2v1h-2zM12 3h1v1h-1zM14 3h1v1h-1zM22 3h1v1h-1zM26 3h1v1h-1zM13 4h1v1h-1zM19 4h1v1h-1zM24 4h1v1h-1zM28 4h1v1h-1zM12 5h1v1h-1zM22 5h1v1h-1zM27 5h1v1h-1zM27 6h1v1h-1zM6 7h1v1h-1zM25 7h2v1h-2zM29 13h1v1h-1zM9 14h1v1h-1zM15 14h1v1h-1zM18 14h1v1h-1zM21 14h1v1h-1zM6 15h2v1h-2zM13 16h1v1h-1zM17 16h1v1h-1zM22 16h2v1h-2zM4 17h2v1h-2zM8 17h1v1h-1zM13 17h1v1h-1zM16 17h1v1h-1zM18 17h1v1h-1zM22 17h1v1h-1zM12 18h3v1h-3zM16 18h1v1h-1zM20 18h1v1h-1zM23 18h1v1h-1zM11 19h1v1h-1zM13 19h2v1h-2zM19 19h1v1h-1zM17 20h1v1h-1zM21 20h1v1h-1zM22 22h1v1h-1zM21 24h1v1h-1zM26 24h2v1h-2zM10 25h1v1h-1zM18 25h1v1h-1zM21 25h1v1h-1zM29 25h1v1h-1zM7 26h1v1h-1zM17 26h1v1h-1zM28 26h2v1h-2zM11 27h1v1h-1zM14 27h1v1h-1zM23 27h2v1h-2zM10 28h1v1h-1zM19 28h1v1h-1zM1 29h1v1h-1zM17 29h3v1h-3zM23 29h1v1h-1z"/>
<path fill="#9e0000" d="M27 1h1v1h-1zM27 2h1v1h-1zM27 15h1v1h-1z"/>
<path fill="#2affd5" d="M29 1h1v1h-1zM1 3h1v1h-1zM1 4h2v1h-2zM1 5h3v1h-3zM2 6h2v1h-2zM2 7h2v1h-2zM0 8h2v1h-2zM3 8h1v1h-1zM15 8h2v1h-2zM1 9h4v1h-4zM16 9h1v1h-1zM15 10h1v1h-1zM28 11h1v1h-1zM16 12h1v1h-1zM13 13h1v1h-1zM25 13h1v1h-1zM11 14h1v1h-1zM24 14h1v1h-1zM1 17h2v1h-2zM9 18h2v1h-2zM26 19h1v1h-1zM16 20h1v1h-1zM27 20h1v1h-1zM1 21h1v1h-1zM24 21h2v1h-2zM27 21h1v1h-1zM1 22h2v1h-2zM27 22h1v1h-1zM17 23h1v1h-1zM19 23h1v1h-1zM15 25h1v1h-1zM6 27h1v1h-1z"/>
<path fill="#ff8000" d="M26 2h1v1h-1zM27 3h1v1h-1zM20 6h1v1h-1zM19 15h1v1h-1zM26 15h1v1h-1zM22 24h4v1h-4zM20 25h1v1h-1zM23 26h1v1h-1zM13 28h1v1h-1zM6 29h1v1h-1zM8 29h3v1h-3zM13 29h1v1h-1z"/>
<path fill="#ff2e00" d="M20 4h1v1h-1zM20 5h1v1h-1zM25 28h1v1h-1z"/>
<path fill="#ffa800" d="M27 4h1v1h-1zM21 5h1v1h-1zM21 7h2v1h-2zM26 14h1v1h-1zM20 15h1v1h-1zM19 16h1v1h-1zM23 23h3v1h-3zM19 24h1v1h-1zM22 25h2v1h-2zM25 25h1v1h-1zM12 26h1v1h-1zM19 26h2v1h-2zM22 26h1v1h-1zM24 26h2v1h-2zM21 27h2v1h-2zM25 27h1v1h-1zM0 28h1v1h-1zM4 28h2v1h-2zM12 28h1v1h-1zM14 28h1v1h-1zM21 28h1v1h-1zM24 28h1v1h-1zM3 29h1v1h-1zM7 29h1v1h-1zM11 29h1v1h-1zM20 29h1v1h-1zM24 29h2v1h-2z"/>
<path fill="#ff0000" d="M19 5h1v1h-1z"/>
<path fill="#00ffff" d="M1 7h1v1h-1zM0 9h1v1h-1zM16 10h1v1h-1zM29 10h1v1h-1zM2 21h2v1h-2zM8 21h1v1h-1z"/>
<path fill="#00d9ff" d="M2 8h1v1h-1zM14 9h1v1h-1z"/>
<path fill="#0094ff" d="M15 9h1v1h-1z"/>
</svg></g></g>
<rect x="618" y="50" width="216" height="215.5" fill="none" stroke="#333" stroke-width="1"/>
<text class="x" x="686.4" y="291.0">10</text>
<text class="x" x="758.4" y="291.0">20</text>
<text class="x" x="830.4" y="291.0">30</text>
<text class="y" x="610.3" y="90.0">5</text>
<text class="y" x="610.3" y="125.9">10</text>
<text class="y" x="610.3" y="161.9">15</text>
<text class="y" x="610.3" y="197.8">20</text>
<text class="y" x="610.3" y="233.7">25</text>
<text class="y" x="610.3" y="269.6">30</text>
<path d="M686.40 265.50v-2.2M686.40 50.00v2.2M758.40 265.50v-2.2M758.40 50.00v2.2M830.40 265.50v-2.2M830.40 50.00v2.2M618.00 82.33h2.2M834.00 82.33h-2.2M618.00 118.24h2.2M834.00 118.24h-2.2M618.00 154.16h2.2M834.00 154.16h-2.2M618.00 190.08h2.2M834.00 190.08h-2.2M618.00 225.99h2.2M834.00 225.99h-2.2M618.00 261.91h2.2M834.00 261.91h-2.2" stroke="#333" stroke-width="1" fill="none"/>
<text class="t" x="726.0" y="39.0">June 18th</text>
<clipPath id="cp3"><rect x="47" y="360" width="216" height="215.5"/></clipPath>
<g clip-path="url(#cp3)"><g filter="url(#bl)">
<svg x="47" y="360" width="216" height="215.5" viewBox="0 0 30 30" preserveAspectRatio="none" shape-rendering="crispEdges" overflow="visible">
<rect width="30" height="30" fill="#00ffff"/>
<path fill="#57ffa8" d="M0 0h1v1h-1zM1 2h1v1h-1zM0 3h2v1h-2zM2 4h1v1h-1zM1 5h2v1h-2zM0 6h1v1h-1zM2 6h1v1h-1zM4 6h1v1h-1zM1 7h1v1h-1zM4 7h1v1h-1zM16 7h1v1h-1zM0 8h1v1h-1zM4 8h1v1h-1zM15 8h1v1h-1zM0 9h1v1h-1zM15 10h1v1h-1zM15 11h1v1h-1zM18 11h1v1h-1zM16 12h1v1h-1zM28 12h1v1h-1zM14 13h1v1h-1zM19 13h1v1h-1zM26 13h2v1h-2zM13 14h5v1h-5zM19 15h1v1h-1zM9 16h1v1h-1zM12 16h1v1h-1zM27 16h1v1h-1zM18 17h1v1h-1zM29 17h1v1h-1zM6 18h1v1h-1zM9 18h1v1h-1zM23 18h2v1h-2zM29 18h1v1h-1zM4 19h1v1h-1zM6 19h1v1h-1zM14 19h1v1h-1zM19 19h2v1h-2zM23 19h1v1h-1zM25 19h1v1h-1zM27 19h3v1h-3zM1 20h2v1h-2zM7 20h2v1h-2zM12 20h1v1h-1zM15 20h1v1h-1zM20 20h1v1h-1zM23 20h2v1h-2zM0 21h1v1h-1zM8 21h1v1h-1zM11 21h4v1h-4zM21 21h1v1h-1zM23 21h2v1h-2zM0 22h1v1h-1zM2 22h1v1h-1zM10 22h5v1h-5zM23 22h2v1h-2zM0 23h1v1h-1zM3 23h1v1h-1zM10 23h5v1h-5zM21 23h1v1h-1zM29 23h1v1h-1zM0 24h5v1h-5zM10 24h3v1h-3zM20 24h2v1h-2zM27 24h1v1h-1zM1 25h1v1h-1zM3 25h1v1h-1zM6 25h5v1h-5zM13 25h1v1h-1zM19 25h2v1h-2zM27 25h1v1h-1zM0 26h1v1h-1zM3 26h3v1h-3zM8 26h1v1h-1zM10 26h1v1h-1zM13 26h1v1h-1zM17 26h1v1h-1zM19 26h2v1h-2zM27 26h1v1h-1zM1 27h1v1h-1zM3 27h1v1h-1zM5 27h1v1h-1zM8 27h9v1h-9zM18 27h3v1h-3zM23 27h2v1h-2zM28 27h1v1h-1zM1 28h1v1h-1zM5 28h1v1h-1zM8 28h3v1h-3zM13 28h1v1h-1zM16 28h3v1h-3zM23 28h1v1h-1zM25 28h1v1h-1zM28 28h1v1h-1zM0 29h2v1h-2zM5 29h1v1h-1zM14 29h4v1h-4zM19 29h1v1h-1zM23 29h1v1h-1zM25 29h1v1h-1zM27 29h2v1h-2z"/>
<path fill="#adff52" d="M1 0h1v1h-1zM0 1h2v1h-2zM29 1h1v1h-1zM0 2h1v1h-1zM10 3h1v1h-1zM28 3h1v1h-1zM7 4h1v1h-1zM9 4h2v1h-2zM3 5h4v1h-4zM12 6h1v1h-1zM15 6h2v1h-2zM20 6h2v1h-2zM5 7h1v1h-1zM17 7h2v1h-2zM9 8h1v1h-1zM12 8h1v1h-1zM17 8h1v1h-1zM24 8h1v1h-1zM13 9h1v1h-1zM27 9h3v1h-3zM24 10h2v1h-2zM28 10h1v1h-1zM19 11h1v1h-1zM24 11h2v1h-2zM28 11h1v1h-1zM14 12h1v1h-1zM17 12h2v1h-2zM24 12h4v1h-4zM16 13h2v1h-2zM25 14h1v1h-1zM10 15h1v1h-1zM10 16h1v1h-1zM19 16h1v1h-1zM26 16h1v1h-1zM13 17h1v1h-1zM23 17h1v1h-1zM25 17h2v1h-2zM26 18h1v1h-1zM13 19h1v1h-1zM5 20h2v1h-2zM5 21h1v1h-1zM5 22h4v1h-4zM25 22h2v1h-2zM5 23h2v1h-2zM9 23h1v1h-1zM23 24h1v1h-1zM22 25h4v1h-4zM22 26h2v1h-2zM17 27h1v1h-1zM11 28h1v1h-1zM15 28h1v1h-1zM22 28h1v1h-1zM20 29h2v1h-2z"/>
<path fill="#d4ff2b" d="M2 0h1v1h-1zM13 0h2v1h-2zM18 0h1v1h-1zM26 0h1v1h-1zM5 1h2v1h-2zM13 1h2v1h-2zM3 2h1v1h-1zM5 2h1v1h-1zM8 2h1v1h-1zM16 2h1v1h-1zM27 3h1v1h-1zM29 3h1v1h-1zM4 4h1v1h-1zM8 4h1v1h-1zM7 5h1v1h-1zM6 6h1v1h-1zM17 6h2v1h-2zM6 7h1v1h-1zM12 7h1v1h-1zM14 7h1v1h-1zM21 7h1v1h-1zM24 7h1v1h-1zM6 8h1v1h-1zM10 8h2v1h-2zM20 8h2v1h-2zM23 8h1v1h-1zM25 8h1v1h-1zM29 8h1v1h-1zM5 9h2v1h-2zM9 9h2v1h-2zM12 9h1v1h-1zM18 9h1v1h-1zM23 9h1v1h-1zM2 10h1v1h-1zM7 10h2v1h-2zM10 10h2v1h-2zM14 10h1v1h-1zM19 10h1v1h-1zM22 10h2v1h-2zM27 10h1v1h-1zM10 11h2v1h-2zM26 11h1v1h-1zM13 12h1v1h-1zM20 12h1v1h-1zM12 13h1v1h-1zM20 13h1v1h-1zM11 14h1v1h-1zM27 14h1v1h-1zM15 15h2v1h-2zM25 15h5v1h-5zM13 16h3v1h-3zM22 16h1v1h-1zM0 17h1v1h-1zM7 17h1v1h-1zM15 17h1v1h-1zM3 18h1v1h-1zM15 18h2v1h-2zM12 19h1v1h-1zM6 21h1v1h-1zM9 22h1v1h-1zM7 23h2v1h-2zM24 23h2v1h-2zM7 28h1v1h-1zM8 29h1v1h-1zM26 29h1v1h-1z"/>
<path fill="#ffd100" d="M3 0h2v1h-2zM6 0h1v1h-1zM19 0h1v1h-1zM7 1h1v1h-1zM10 1h1v1h-1zM12 1h1v1h-1zM17 1h2v1h-2zM20 1h1v1h-1zM10 2h1v1h-1zM17 2h2v1h-2zM20 2h1v1h-1zM23 2h1v1h-1zM26 2h1v1h-1zM7 3h1v1h-1zM12 3h1v1h-1zM15 3h1v1h-1zM11 4h1v1h-1zM14 4h2v1h-2zM19 4h1v1h-1zM8 5h1v1h-1zM12 5h1v1h-1zM14 5h1v1h-1zM17 5h2v1h-2zM22 5h1v1h-1zM28 5h1v1h-1zM7 6h3v1h-3zM14 6h1v1h-1zM22 6h4v1h-4zM27 6h1v1h-1zM7 7h1v1h-1zM26 7h2v1h-2zM7 8h1v1h-1zM19 8h1v1h-1zM27 8h1v1h-1zM24 9h1v1h-1zM0 10h2v1h-2zM21 10h1v1h-1zM0 11h3v1h-3zM9 11h1v1h-1zM0 12h1v1h-1zM3 12h1v1h-1zM6 12h1v1h-1zM8 12h2v1h-2zM11 12h1v1h-1zM23 12h1v1h-1zM0 13h1v1h-1zM8 13h2v1h-2zM29 13h1v1h-1zM7 14h1v1h-1zM10 14h1v1h-1zM29 14h1v1h-1zM0 15h1v1h-1zM6 15h2v1h-2zM24 15h1v1h-1zM2 16h2v1h-2zM5 16h2v1h-2zM21 16h1v1h-1zM24 16h1v1h-1zM2 17h2v1h-2zM5 17h1v1h-1zM1 18h2v1h-2zM0 19h1v1h-1zM2 19h1v1h-1z"/>
<path fill="#ffff00" d="M5 0h1v1h-1zM9 0h1v1h-1zM16 0h2v1h-2zM20 0h1v1h-1zM27 0h1v1h-1zM29 0h1v1h-1zM9 1h1v1h-1zM15 1h1v1h-1zM26 1h1v1h-1zM9 2h1v1h-1zM11 2h1v1h-1zM14 2h2v1h-2zM27 2h2v1h-2zM4 3h1v1h-1zM9 3h1v1h-1zM18 3h1v1h-1zM24 3h1v1h-1zM26 3h1v1h-1zM16 4h1v1h-1zM25 4h2v1h-2zM29 4h1v1h-1zM9 5h1v1h-1zM11 5h1v1h-1zM23 5h1v1h-1zM10 6h1v1h-1zM28 6h1v1h-1zM8 7h1v1h-1zM10 7h1v1h-1zM20 7h1v1h-1zM28 7h1v1h-1zM18 8h1v1h-1zM28 8h1v1h-1zM21 9h2v1h-2zM25 9h1v1h-1zM5 10h1v1h-1zM3 11h1v1h-1zM6 11h2v1h-2zM22 11h1v1h-1zM27 11h1v1h-1zM4 12h1v1h-1zM7 12h1v1h-1zM10 12h1v1h-1zM11 13h1v1h-1zM22 13h1v1h-1zM28 13h1v1h-1zM8 14h1v1h-1zM9 15h1v1h-1zM4 16h1v1h-1zM23 16h1v1h-1zM4 17h1v1h-1zM9 17h1v1h-1zM21 17h1v1h-1zM0 18h1v1h-1zM20 18h1v1h-1zM22 18h1v1h-1zM8 24h1v1h-1zM27 27h1v1h-1z"/>
<path fill="#ffa800" d="M7 0h2v1h-2zM21 0h5v1h-5zM8 1h1v1h-1zM11 1h1v1h-1zM16 1h1v1h-1zM19 1h1v1h-1zM23 1h2v1h-2zM27 1h1v1h-1zM19 2h1v1h-1zM22 2h1v1h-1zM29 2h1v1h-1zM8 3h1v1h-1zM13 3h2v1h-2zM16 3h2v1h-2zM19 3h1v1h-1zM12 4h1v1h-1zM24 4h1v1h-1zM13 5h1v1h-1zM20 5h1v1h-1zM25 5h3v1h-3zM26 6h1v1h-1zM26 8h1v1h-1zM20 9h1v1h-1zM20 10h1v1h-1zM20 11h1v1h-1zM1 12h2v1h-2zM5 12h1v1h-1zM21 12h1v1h-1zM3 13h2v1h-2zM6 13h2v1h-2zM10 13h1v1h-1zM0 14h2v1h-2zM4 14h3v1h-3zM9 14h1v1h-1zM1 15h2v1h-2zM8 15h1v1h-1zM0 16h2v1h-2zM7 16h1v1h-1zM6 17h1v1h-1zM22 17h1v1h-1zM3 19h1v1h-1z"/>
<path fill="#e5ff1a" d="M10 0h3v1h-3zM15 0h1v1h-1zM2 1h3v1h-3zM4 2h1v1h-1zM6 2h2v1h-2zM12 2h2v1h-2zM5 3h2v1h-2zM11 3h1v1h-1zM25 3h1v1h-1zM5 4h1v1h-1zM17 4h2v1h-2zM27 4h2v1h-2zM10 5h1v1h-1zM15 5h2v1h-2zM29 5h1v1h-1zM11 6h1v1h-1zM13 6h1v1h-1zM19 6h1v1h-1zM29 6h1v1h-1zM9 7h1v1h-1zM11 7h1v1h-1zM13 7h1v1h-1zM19 7h1v1h-1zM22 7h2v1h-2zM25 7h1v1h-1zM29 7h1v1h-1zM8 8h1v1h-1zM22 8h1v1h-1zM7 9h2v1h-2zM11 9h1v1h-1zM19 9h1v1h-1zM4 10h1v1h-1zM6 10h1v1h-1zM9 10h1v1h-1zM12 10h2v1h-2zM4 11h2v1h-2zM8 11h1v1h-1zM12 11h3v1h-3zM12 12h1v1h-1zM23 14h1v1h-1zM28 14h1v1h-1zM11 15h1v1h-1zM22 15h1v1h-1zM20 16h1v1h-1zM25 16h1v1h-1zM1 17h1v1h-1zM8 17h1v1h-1zM14 17h1v1h-1zM19 18h1v1h-1zM1 19h1v1h-1zM24 24h2v1h-2zM26 28h1v1h-1zM7 29h1v1h-1zM9 29h3v1h-3z"/>
<path fill="#d10000" d="M28 0h1v1h-1z"/>
<path fill="#ff8000" d="M21 1h2v1h-2zM25 1h1v1h-1zM21 2h1v1h-1zM24 2h2v1h-2zM23 3h1v1h-1zM13 4h1v1h-1zM22 4h2v1h-2zM24 5h1v1h-1zM22 12h1v1h-1zM1 13h2v1h-2zM5 13h1v1h-1zM2 14h2v1h-2zM3 15h3v1h-3z"/>
<path fill="#ff2e00" d="M28 1h1v1h-1zM21 3h1v1h-1zM21 4h1v1h-1zM21 5h1v1h-1z"/>
<path fill="#80ff80" d="M2 2h1v1h-1zM3 3h1v1h-1zM0 4h1v1h-1zM3 4h1v1h-1zM6 4h1v1h-1zM0 5h1v1h-1zM19 5h1v1h-1zM1 6h1v1h-1zM5 6h1v1h-1zM0 7h1v1h-1zM5 8h1v1h-1zM13 8h2v1h-2zM4 9h1v1h-1zM14 9h1v1h-1zM17 9h1v1h-1zM26 9h1v1h-1zM3 10h1v1h-1zM18 10h1v1h-1zM26 10h1v1h-1zM23 11h1v1h-1zM15 12h1v1h-1zM19 12h1v1h-1zM29 12h1v1h-1zM13 13h1v1h-1zM15 13h1v1h-1zM18 13h1v1h-1zM21 13h1v1h-1zM23 13h3v1h-3zM12 14h1v1h-1zM18 14h3v1h-3zM22 14h1v1h-1zM26 14h1v1h-1zM12 15h3v1h-3zM17 15h2v1h-2zM20 15h2v1h-2zM23 15h1v1h-1zM8 16h1v1h-1zM11 16h1v1h-1zM16 16h3v1h-3zM28 16h2v1h-2zM10 17h3v1h-3zM16 17h2v1h-2zM20 17h1v1h-1zM24 17h1v1h-1zM27 17h2v1h-2zM4 18h2v1h-2zM12 18h2v1h-2zM18 18h1v1h-1zM25 18h1v1h-1zM27 18h2v1h-2zM5 19h1v1h-1zM24 19h1v1h-1zM26 19h1v1h-1zM7 21h1v1h-1zM20 21h1v1h-1zM4 23h1v1h-1zM22 23h2v1h-2zM26 23h1v1h-1zM7 24h1v1h-1zM22 24h1v1h-1zM26 24h1v1h-1zM0 25h1v1h-1zM14 25h1v1h-1zM21 25h1v1h-1zM26 25h1v1h-1zM9 26h1v1h-1zM14 26h1v1h-1zM21 26h1v1h-1zM24 26h3v1h-3zM0 27h1v1h-1zM4 27h1v1h-1zM21 27h2v1h-2zM25 27h2v1h-2zM0 28h1v1h-1zM2 28h3v1h-3zM6 28h1v1h-1zM12 28h1v1h-1zM14 28h1v1h-1zM19 28h3v1h-3zM27 28h1v1h-1zM4 29h1v1h-1zM6 29h1v1h-1zM12 29h2v1h-2zM18 29h1v1h-1zM22 29h1v1h-1z"/>
<path fill="#00ffff" d="M2 3h1v1h-1zM3 6h1v1h-1zM2 7h1v1h-1zM15 7h1v1h-1zM1 8h1v1h-1zM2 9h1v1h-1zM15 9h1v1h-1zM16 10h1v1h-1zM16 11h1v1h-1zM29 11h1v1h-1zM7 18h2v1h-2zM8 19h2v1h-2zM21 19h1v1h-1zM16 20h3v1h-3zM3 21h1v1h-1zM16 21h1v1h-1zM26 21h4v1h-4zM18 22h1v1h-1zM17 23h1v1h-1zM14 24h4v1h-4zM17 25h1v1h-1zM29 25h1v1h-1zM6 26h2v1h-2zM29 26h1v1h-1zM24 28h1v1h-1zM29 28h1v1h-1z"/>
<path fill="#ff5700" d="M20 3h1v1h-1zM22 3h1v1h-1zM21 11h1v1h-1z"/>
<path fill="#2affd5" d="M1 4h1v1h-1zM1 9h1v1h-1zM17 10h1v1h-1zM29 10h1v1h-1zM17 11h1v1h-1zM21 14h1v1h-1zM24 14h1v1h-1zM19 17h1v1h-1zM10 18h2v1h-2zM14 18h1v1h-1zM17 18h1v1h-1zM21 18h1v1h-1zM7 19h1v1h-1zM11 19h1v1h-1zM15 19h2v1h-2zM22 19h1v1h-1zM3 20h2v1h-2zM9 20h1v1h-1zM11 20h1v1h-1zM13 20h2v1h-2zM19 20h1v1h-1zM21 20h2v1h-2zM25 20h5v1h-5zM1 21h2v1h-2zM9 21h2v1h-2zM15 21h1v1h-1zM17 21h3v1h-3zM22 21h1v1h-1zM25 21h1v1h-1zM1 22h1v1h-1zM3 22h2v1h-2zM15 22h2v1h-2zM21 22h2v1h-2zM27 22h3v1h-3zM1 23h2v1h-2zM15 23h1v1h-1zM27 23h2v1h-2zM5 24h2v1h-2zM9 24h1v1h-1zM13 24h1v1h-1zM18 24h2v1h-2zM28 24h2v1h-2zM2 25h1v1h-1zM4 25h2v1h-2zM11 25h2v1h-2zM15 25h1v1h-1zM18 25h1v1h-1zM28 25h1v1h-1zM1 26h2v1h-2zM11 26h2v1h-2zM15 26h2v1h-2zM18 26h1v1h-1zM2 27h1v1h-1zM6 27h2v1h-2zM29 27h1v1h-1zM2 29h2v1h-2zM24 29h1v1h-1zM29 29h1v1h-1z"/>
<path fill="#ff0000" d="M20 4h1v1h-1z"/>
<path fill="#00bbff" d="M3 7h1v1h-1zM2 8h2v1h-2zM19 23h2v1h-2z"/>
<path fill="#0094ff" d="M16 8h1v1h-1z"/>
<path fill="#00d9ff" d="M3 9h1v1h-1zM16 9h1v1h-1zM10 19h1v1h-1zM17 19h2v1h-2zM0 20h1v1h-1zM10 20h1v1h-1zM4 21h1v1h-1zM17 22h1v1h-1zM19 22h2v1h-2zM16 23h1v1h-1zM18 23h1v1h-1zM16 25h1v1h-1zM28 26h1v1h-1z"/>
</svg></g></g>
<rect x="47" y="360" width="216" height="215.5" fill="none" stroke="#333" stroke-width="1"/>
<text class="x" x="115.4" y="601.0">10</text>
<text class="x" x="187.4" y="601.0">20</text>
<text class="x" x="259.4" y="601.0">30</text>
<text class="y" x="39.3" y="400.0">5</text>
<text class="y" x="39.3" y="435.9">10</text>
<text class="y" x="39.3" y="471.9">15</text>
<text class="y" x="39.3" y="507.8">20</text>
<text class="y" x="39.3" y="543.7">25</text>
<text class="y" x="39.3" y="579.6">30</text>
<path d="M115.40 575.50v-2.2M115.40 360.00v2.2M187.40 575.50v-2.2M187.40 360.00v2.2M259.40 575.50v-2.2M259.40 360.00v2.2M47.00 392.32h2.2M263.00 392.32h-2.2M47.00 428.24h2.2M263.00 428.24h-2.2M47.00 464.16h2.2M263.00 464.16h-2.2M47.00 500.08h2.2M263.00 500.08h-2.2M47.00 535.99h2.2M263.00 535.99h-2.2M47.00 571.91h2.2M263.00 571.91h-2.2" stroke="#333" stroke-width="1" fill="none"/>
<text class="t" x="155.0" y="349.0">July 18th</text>
<clipPath id="cp4"><rect x="332.6" y="360" width="216" height="215.5"/></clipPath>
<g clip-path="url(#cp4)"><g filter="url(#bl)">
<svg x="332.6" y="360" width="216" height="215.5" viewBox="0 0 30 30" preserveAspectRatio="none" shape-rendering="crispEdges" overflow="visible">
<rect width="30" height="30" fill="#00ffff"/>
<path fill="#e5ff1a" d="M0 0h1v1h-1zM0 1h1v1h-1zM13 1h1v1h-1zM0 2h1v1h-1zM27 2h2v1h-2zM8 3h1v1h-1zM25 4h2v1h-2zM3 5h2v1h-2zM6 5h2v1h-2zM19 5h1v1h-1zM17 6h5v1h-5zM29 6h1v1h-1zM24 7h1v1h-1zM8 8h1v1h-1zM12 8h1v1h-1zM24 8h1v1h-1zM3 9h2v1h-2zM12 9h1v1h-1zM17 9h1v1h-1zM24 9h1v1h-1zM28 9h2v1h-2zM24 10h1v1h-1zM27 10h1v1h-1zM26 11h2v1h-2zM14 13h2v1h-2zM23 13h4v1h-4zM12 14h3v1h-3zM25 15h1v1h-1zM7 16h1v1h-1zM14 16h1v1h-1zM5 17h3v1h-3zM17 17h3v1h-3zM24 17h2v1h-2zM12 18h2v1h-2zM19 18h1v1h-1zM23 18h2v1h-2zM0 19h1v1h-1zM18 19h1v1h-1zM11 20h3v1h-3zM5 24h3v1h-3zM23 25h1v1h-1zM23 26h1v1h-1z"/>
<path fill="#ffd100" d="M1 0h2v1h-2zM8 0h2v1h-2zM11 0h2v1h-2zM14 0h2v1h-2zM17 0h1v1h-1zM20 0h1v1h-1zM25 0h2v1h-2zM1 1h2v1h-2zM5 1h1v1h-1zM7 1h2v1h-2zM11 1h1v1h-1zM14 1h2v1h-2zM27 1h2v1h-2zM3 2h1v1h-1zM6 2h1v1h-1zM13 2h2v1h-2zM29 2h1v1h-1zM2 3h1v1h-1zM4 3h1v1h-1zM9 3h2v1h-2zM25 3h1v1h-1zM29 3h1v1h-1zM4 4h1v1h-1zM8 4h3v1h-3zM17 4h1v1h-1zM24 4h1v1h-1zM29 4h1v1h-1zM10 5h2v1h-2zM14 5h1v1h-1zM20 5h1v1h-1zM23 5h1v1h-1zM5 6h1v1h-1zM9 6h1v1h-1zM12 6h1v1h-1zM22 6h1v1h-1zM27 6h2v1h-2zM5 7h2v1h-2zM8 7h5v1h-5zM16 7h2v1h-2zM19 7h2v1h-2zM22 7h2v1h-2zM28 7h2v1h-2zM5 8h3v1h-3zM9 8h1v1h-1zM18 8h3v1h-3zM26 8h2v1h-2zM8 9h4v1h-4zM19 9h2v1h-2zM27 9h1v1h-1zM1 10h1v1h-1zM3 10h6v1h-6zM10 10h3v1h-3zM4 11h3v1h-3zM11 11h3v1h-3zM11 12h3v1h-3zM17 12h1v1h-1zM22 12h1v1h-1zM10 13h3v1h-3zM10 14h1v1h-1zM28 14h2v1h-2zM8 15h1v1h-1zM11 15h1v1h-1zM26 15h1v1h-1zM28 15h1v1h-1zM8 16h1v1h-1zM13 16h1v1h-1zM0 17h1v1h-1zM12 17h1v1h-1zM20 17h3v1h-3zM0 18h1v1h-1zM8 18h1v1h-1zM20 18h1v1h-1zM14 19h1v1h-1z"/>
<path fill="#ffa800" d="M3 0h2v1h-2zM7 0h1v1h-1zM10 0h1v1h-1zM16 0h1v1h-1zM18 0h2v1h-2zM24 0h1v1h-1zM29 0h1v1h-1zM3 1h2v1h-2zM6 1h1v1h-1zM9 1h2v1h-2zM16 1h2v1h-2zM19 1h3v1h-3zM4 2h2v1h-2zM8 2h2v1h-2zM12 2h1v1h-1zM23 2h3v1h-3zM5 3h3v1h-3zM14 3h4v1h-4zM12 4h1v1h-1zM14 4h3v1h-3zM9 5h1v1h-1zM13 5h1v1h-1zM15 5h2v1h-2zM26 5h2v1h-2zM23 6h3v1h-3zM18 7h1v1h-1zM25 7h3v1h-3zM10 8h1v1h-1zM25 8h1v1h-1zM19 10h1v1h-1zM21 10h1v1h-1zM23 10h1v1h-1zM2 11h1v1h-1zM7 11h2v1h-2zM19 11h3v1h-3zM4 12h3v1h-3zM10 12h1v1h-1zM20 12h1v1h-1zM9 13h1v1h-1zM16 13h2v1h-2zM29 15h1v1h-1zM0 16h3v1h-3zM8 17h1v1h-1zM13 17h3v1h-3zM3 18h1v1h-1zM21 18h2v1h-2zM1 19h1v1h-1zM22 19h1v1h-1zM2 20h1v1h-1z"/>
<path fill="#ff8000" d="M5 0h2v1h-2zM21 0h3v1h-3zM27 0h1v1h-1zM18 1h1v1h-1zM22 1h3v1h-3zM7 2h1v1h-1zM10 2h2v1h-2zM15 2h4v1h-4zM11 3h1v1h-1zM18 3h1v1h-1zM11 4h1v1h-1zM13 4h1v1h-1zM18 4h1v1h-1zM23 4h1v1h-1zM8 5h1v1h-1zM21 5h2v1h-2zM24 5h2v1h-2zM6 6h3v1h-3zM26 6h1v1h-1zM7 7h1v1h-1zM0 10h1v1h-1zM20 10h1v1h-1zM1 11h1v1h-1zM3 11h1v1h-1zM3 12h1v1h-1zM7 12h3v1h-3zM21 12h1v1h-1zM6 13h3v1h-3zM6 14h3v1h-3zM5 15h3v1h-3zM9 15h2v1h-2zM3 16h4v1h-4zM1 17h3v1h-3zM2 18h1v1h-1zM2 19h1v1h-1z"/>
<path fill="#ffff00" d="M13 0h1v1h-1zM12 1h1v1h-1zM25 1h2v1h-2zM29 1h1v1h-1zM1 2h2v1h-2zM3 3h1v1h-1zM23 3h2v1h-2zM3 4h1v1h-1zM5 4h3v1h-3zM19 4h1v1h-1zM27 4h2v1h-2zM5 5h1v1h-1zM12 5h1v1h-1zM17 5h2v1h-2zM28 5h2v1h-2zM10 6h2v1h-2zM13 6h3v1h-3zM21 7h1v1h-1zM11 8h1v1h-1zM17 8h1v1h-1zM21 8h3v1h-3zM28 8h2v1h-2zM5 9h3v1h-3zM18 9h1v1h-1zM21 9h3v1h-3zM9 10h1v1h-1zM14 10h1v1h-1zM22 10h1v1h-1zM9 11h2v1h-2zM14 11h1v1h-1zM22 11h1v1h-1zM14 12h3v1h-3zM18 12h2v1h-2zM13 13h1v1h-1zM22 13h1v1h-1zM27 13h3v1h-3zM11 14h1v1h-1zM27 14h1v1h-1zM9 16h1v1h-1zM20 16h3v1h-3zM24 16h1v1h-1zM23 17h1v1h-1zM14 18h2v1h-2zM3 19h1v1h-1zM19 19h2v1h-2zM7 25h2v1h-2z"/>
<path fill="#ff2e00" d="M28 0h1v1h-1zM20 2h2v1h-2zM0 11h1v1h-1zM0 12h1v1h-1zM0 13h2v1h-2zM4 13h2v1h-2zM0 14h5v1h-5zM9 14h1v1h-1zM2 15h3v1h-3z"/>
<path fill="#ff5700" d="M19 2h1v1h-1zM22 2h1v1h-1zM12 3h2v1h-2zM22 3h1v1h-1zM22 4h1v1h-1zM1 12h2v1h-2zM2 13h2v1h-2zM5 14h1v1h-1zM0 15h2v1h-2zM4 17h1v1h-1zM1 18h1v1h-1z"/>
<path fill="#c7ff38" d="M26 2h1v1h-1zM26 3h3v1h-3zM2 5h1v1h-1zM4 7h1v1h-1zM4 8h1v1h-1zM2 9h1v1h-1zM25 9h2v1h-2zM2 10h1v1h-1zM13 10h1v1h-1zM25 10h2v1h-2zM28 10h1v1h-1zM23 11h3v1h-3zM23 12h4v1h-4zM18 13h1v1h-1zM20 13h2v1h-2zM16 14h3v1h-3zM22 14h1v1h-1zM26 14h1v1h-1zM12 15h2v1h-2zM15 15h1v1h-1zM22 15h2v1h-2zM27 15h1v1h-1zM10 16h3v1h-3zM15 16h1v1h-1zM23 16h1v1h-1zM25 16h2v1h-2zM9 17h1v1h-1zM16 17h1v1h-1zM9 18h1v1h-1zM25 18h1v1h-1zM21 19h1v1h-1zM23 19h3v1h-3zM27 19h1v1h-1zM21 20h1v1h-1zM26 28h1v1h-1zM0 29h1v1h-1zM19 29h1v1h-1z"/>
<path fill="#5cffa3" d="M0 3h2v1h-2zM3 8h1v1h-1zM16 8h1v1h-1zM0 9h2v1h-2zM15 10h1v1h-1zM17 10h1v1h-1zM16 11h2v1h-2zM28 12h2v1h-2zM20 14h2v1h-2zM27 16h1v1h-1zM27 17h1v1h-1zM5 19h2v1h-2zM10 19h1v1h-1zM3 20h2v1h-2zM6 20h1v1h-1zM10 20h1v1h-1zM15 20h1v1h-1zM18 20h3v1h-3zM23 20h2v1h-2zM0 21h2v1h-2zM4 21h1v1h-1zM6 21h3v1h-3zM11 21h1v1h-1zM24 21h2v1h-2zM0 22h2v1h-2zM11 22h1v1h-1zM0 23h4v1h-4zM9 23h1v1h-1zM11 23h3v1h-3zM29 23h1v1h-1zM1 24h3v1h-3zM11 24h3v1h-3zM28 24h2v1h-2zM0 25h1v1h-1zM2 25h2v1h-2zM5 25h1v1h-1zM10 25h2v1h-2zM26 25h1v1h-1zM0 26h1v1h-1zM3 26h1v1h-1zM6 26h2v1h-2zM10 26h1v1h-1zM24 26h3v1h-3zM0 27h3v1h-3zM7 27h1v1h-1zM10 27h2v1h-2zM14 27h1v1h-1zM20 27h1v1h-1zM24 27h3v1h-3zM0 28h1v1h-1zM4 28h2v1h-2zM11 28h1v1h-1zM15 28h2v1h-2zM18 28h1v1h-1zM20 28h1v1h-1zM23 28h1v1h-1zM25 28h1v1h-1zM27 28h2v1h-2zM1 29h2v1h-2zM6 29h2v1h-2zM11 29h1v1h-1zM17 29h1v1h-1zM23 29h1v1h-1zM25 29h1v1h-1zM27 29h2v1h-2z"/>
<path fill="#d10000" d="M19 3h1v1h-1z"/>
<path fill="#ff0000" d="M20 3h2v1h-2zM20 4h2v1h-2z"/>
<path fill="#a8ff57" d="M0 4h3v1h-3zM0 5h2v1h-2zM4 6h1v1h-1zM16 6h1v1h-1zM13 7h3v1h-3zM18 10h1v1h-1zM18 11h1v1h-1zM15 14h1v1h-1zM23 14h3v1h-3zM14 15h1v1h-1zM16 15h1v1h-1zM18 15h1v1h-1zM21 15h1v1h-1zM24 15h1v1h-1zM16 16h4v1h-4zM28 16h2v1h-2zM10 17h2v1h-2zM26 17h1v1h-1zM4 18h1v1h-1zM10 18h2v1h-2zM16 18h3v1h-3zM26 18h1v1h-1zM4 19h1v1h-1zM11 19h3v1h-3zM15 19h2v1h-2zM26 19h1v1h-1zM5 20h1v1h-1zM5 21h1v1h-1zM5 22h1v1h-1zM7 22h2v1h-2zM4 23h4v1h-4zM8 24h2v1h-2zM24 24h1v1h-1zM6 25h1v1h-1zM24 25h2v1h-2zM8 26h1v1h-1zM9 27h1v1h-1zM9 28h1v1h-1zM13 28h1v1h-1zM21 28h2v1h-2zM8 29h2v1h-2zM12 29h2v1h-2zM18 29h1v1h-1zM21 29h1v1h-1zM26 29h1v1h-1z"/>
<path fill="#85ff7a" d="M0 6h1v1h-1zM0 7h1v1h-1zM13 8h1v1h-1zM13 9h1v1h-1zM15 11h1v1h-1zM28 11h1v1h-1zM27 12h1v1h-1zM19 13h1v1h-1zM19 14h1v1h-1zM17 15h1v1h-1zM19 15h2v1h-2zM28 17h2v1h-2zM5 18h3v1h-3zM27 18h2v1h-2zM8 19h2v1h-2zM17 19h1v1h-1zM28 19h1v1h-1zM14 20h1v1h-1zM17 20h1v1h-1zM25 20h5v1h-5zM12 21h1v1h-1zM26 21h4v1h-4zM4 22h1v1h-1zM6 22h1v1h-1zM20 22h2v1h-2zM8 23h1v1h-1zM21 23h1v1h-1zM4 24h1v1h-1zM23 24h1v1h-1zM25 24h2v1h-2zM4 25h1v1h-1zM9 25h1v1h-1zM12 25h3v1h-3zM2 26h1v1h-1zM9 26h1v1h-1zM11 26h2v1h-2zM22 26h1v1h-1zM3 27h1v1h-1zM8 27h1v1h-1zM12 27h2v1h-2zM21 27h3v1h-3zM3 28h1v1h-1zM7 28h2v1h-2zM10 28h1v1h-1zM12 28h1v1h-1zM14 28h1v1h-1zM17 28h1v1h-1zM19 28h1v1h-1zM3 29h3v1h-3zM10 29h1v1h-1zM14 29h3v1h-3zM20 29h1v1h-1zM22 29h1v1h-1z"/>
<path fill="#00ffff" d="M1 6h1v1h-1zM1 7h1v1h-1zM0 8h1v1h-1zM14 8h2v1h-2zM14 9h3v1h-3zM7 20h3v1h-3zM22 20h1v1h-1zM2 21h1v1h-1zM9 21h1v1h-1zM17 21h2v1h-2zM20 21h1v1h-1zM3 22h1v1h-1zM16 22h3v1h-3zM22 22h1v1h-1zM26 22h1v1h-1zM29 22h1v1h-1zM16 23h1v1h-1zM18 23h1v1h-1zM22 23h1v1h-1zM16 24h7v1h-7zM16 25h4v1h-4zM21 25h2v1h-2zM27 25h1v1h-1zM15 26h1v1h-1zM28 26h1v1h-1zM15 27h1v1h-1z"/>
<path fill="#2effd1" d="M2 6h2v1h-2zM2 7h2v1h-2zM2 8h1v1h-1zM16 10h1v1h-1zM29 11h1v1h-1zM29 18h1v1h-1zM7 19h1v1h-1zM29 19h1v1h-1zM0 20h2v1h-2zM16 20h1v1h-1zM3 21h1v1h-1zM10 21h1v1h-1zM13 21h4v1h-4zM19 21h1v1h-1zM21 21h3v1h-3zM2 22h1v1h-1zM9 22h2v1h-2zM12 22h4v1h-4zM19 22h1v1h-1zM23 22h3v1h-3zM27 22h2v1h-2zM10 23h1v1h-1zM14 23h2v1h-2zM17 23h1v1h-1zM19 23h2v1h-2zM23 23h6v1h-6zM0 24h1v1h-1zM10 24h1v1h-1zM14 24h2v1h-2zM27 24h1v1h-1zM1 25h1v1h-1zM15 25h1v1h-1zM28 25h2v1h-2zM1 26h1v1h-1zM4 26h2v1h-2zM13 26h2v1h-2zM16 26h3v1h-3zM20 26h2v1h-2zM27 26h1v1h-1zM29 26h1v1h-1zM4 27h3v1h-3zM16 27h4v1h-4zM27 27h3v1h-3zM1 28h2v1h-2zM6 28h1v1h-1zM24 28h1v1h-1zM29 28h1v1h-1zM24 29h1v1h-1zM29 29h1v1h-1z"/>
<path fill="#00d9ff" d="M1 8h1v1h-1zM29 10h1v1h-1z"/>
<path fill="#00bbff" d="M20 25h1v1h-1zM19 26h1v1h-1z"/>
</svg></g></g>
<rect x="332.6" y="360" width="216" height="215.5" fill="none" stroke="#333" stroke-width="1"/>
<text class="x" x="401.0" y="601.0">10</text>
<text class="x" x="473.0" y="601.0">20</text>
<text class="x" x="545.0" y="601.0">30</text>
<text class="y" x="324.9" y="400.0">5</text>
<text class="y" x="324.9" y="435.9">10</text>
<text class="y" x="324.9" y="471.9">15</text>
<text class="y" x="324.9" y="507.8">20</text>
<text class="y" x="324.9" y="543.7">25</text>
<text class="y" x="324.9" y="579.6">30</text>
<path d="M401.00 575.50v-2.2M401.00 360.00v2.2M473.00 575.50v-2.2M473.00 360.00v2.2M545.00 575.50v-2.2M545.00 360.00v2.2M332.60 392.32h2.2M548.60 392.32h-2.2M332.60 428.24h2.2M548.60 428.24h-2.2M332.60 464.16h2.2M548.60 464.16h-2.2M332.60 500.08h2.2M548.60 500.08h-2.2M332.60 535.99h2.2M548.60 535.99h-2.2M332.60 571.91h2.2M548.60 571.91h-2.2" stroke="#333" stroke-width="1" fill="none"/>
<text class="t" x="440.6" y="349.0">August 17th</text>
<clipPath id="cp5"><rect x="618" y="360" width="216" height="215.5"/></clipPath>
<g clip-path="url(#cp5)"><g filter="url(#bl)">
<svg x="618" y="360" width="216" height="215.5" viewBox="0 0 30 30" preserveAspectRatio="none" shape-rendering="crispEdges" overflow="visible">
<rect width="30" height="30" fill="#00ffff"/>
<path fill="#00ffff" d="M0 0h1v1h-1zM2 0h3v1h-3zM9 0h3v1h-3zM14 0h1v1h-1zM0 1h1v1h-1zM2 1h2v1h-2zM11 1h1v1h-1zM14 1h1v1h-1zM25 2h1v1h-1zM17 7h2v1h-2zM27 7h3v1h-3zM9 8h1v1h-1zM13 8h3v1h-3zM19 8h1v1h-1zM22 8h1v1h-1zM24 8h4v1h-4zM9 9h2v1h-2zM13 9h3v1h-3zM19 9h1v1h-1zM21 9h3v1h-3zM25 9h3v1h-3zM13 10h2v1h-2zM17 10h1v1h-1zM23 10h1v1h-1zM11 11h3v1h-3zM17 11h2v1h-2zM23 11h1v1h-1zM26 11h1v1h-1zM11 12h4v1h-4zM16 12h3v1h-3zM20 12h2v1h-2zM24 12h1v1h-1zM29 12h1v1h-1zM9 13h3v1h-3zM13 13h2v1h-2zM19 13h1v1h-1zM23 13h2v1h-2zM26 13h4v1h-4zM9 14h5v1h-5zM23 14h7v1h-7zM9 15h5v1h-5zM16 15h1v1h-1zM19 15h1v1h-1zM24 15h6v1h-6zM10 16h2v1h-2zM13 16h1v1h-1zM16 16h3v1h-3zM20 16h5v1h-5zM28 16h1v1h-1zM11 17h1v1h-1zM20 17h4v1h-4zM27 17h3v1h-3zM14 18h1v1h-1zM16 18h1v1h-1zM23 18h1v1h-1zM27 18h3v1h-3zM10 19h1v1h-1zM13 19h2v1h-2zM17 19h3v1h-3zM23 19h2v1h-2zM29 19h1v1h-1zM13 20h1v1h-1zM15 20h3v1h-3zM19 20h6v1h-6zM26 20h1v1h-1zM29 20h1v1h-1zM10 21h3v1h-3zM19 21h3v1h-3zM28 21h1v1h-1zM10 22h1v1h-1zM28 22h1v1h-1zM1 23h1v1h-1zM6 23h1v1h-1zM10 23h2v1h-2zM21 23h1v1h-1zM2 24h1v1h-1zM7 24h1v1h-1zM21 24h1v1h-1zM29 24h1v1h-1zM2 25h2v1h-2zM17 25h2v1h-2zM29 25h1v1h-1zM1 26h1v1h-1zM2 27h1v1h-1z"/>
<path fill="#00e2ff" d="M1 0h1v1h-1zM1 1h1v1h-1zM3 3h1v1h-1zM6 4h1v1h-1zM5 5h2v1h-2zM5 6h2v1h-2zM7 8h2v1h-2zM20 8h2v1h-2zM28 8h2v1h-2zM24 9h1v1h-1zM28 9h1v1h-1zM8 10h1v1h-1zM10 10h1v1h-1zM24 10h2v1h-2zM27 10h1v1h-1zM29 10h1v1h-1zM10 11h1v1h-1zM14 11h3v1h-3zM19 11h1v1h-1zM24 11h2v1h-2zM27 11h2v1h-2zM5 12h1v1h-1zM10 12h1v1h-1zM15 12h1v1h-1zM19 12h1v1h-1zM23 12h1v1h-1zM25 12h4v1h-4zM0 13h1v1h-1zM15 13h2v1h-2zM18 13h1v1h-1zM25 13h1v1h-1zM15 14h2v1h-2zM8 16h1v1h-1zM25 16h3v1h-3zM5 17h1v1h-1zM8 17h1v1h-1zM10 17h1v1h-1zM16 17h2v1h-2zM24 17h3v1h-3zM1 18h2v1h-2zM4 18h4v1h-4zM15 18h1v1h-1zM17 18h4v1h-4zM24 18h3v1h-3zM1 19h2v1h-2zM4 19h2v1h-2zM15 19h2v1h-2zM20 19h1v1h-1zM25 19h4v1h-4zM10 20h3v1h-3zM18 20h1v1h-1zM27 20h2v1h-2zM0 21h1v1h-1zM0 22h1v1h-1zM4 22h4v1h-4zM20 22h1v1h-1zM10 24h2v1h-2z"/>
<path fill="#2affd5" d="M5 0h4v1h-4zM12 0h2v1h-2zM19 0h2v1h-2zM4 1h1v1h-1zM6 1h5v1h-5zM12 1h1v1h-1zM19 1h1v1h-1zM2 2h3v1h-3zM8 2h3v1h-3zM26 2h1v1h-1zM4 3h8v1h-8zM24 3h2v1h-2zM4 4h2v1h-2zM7 4h5v1h-5zM7 5h1v1h-1zM10 5h4v1h-4zM15 5h1v1h-1zM0 6h1v1h-1zM7 6h1v1h-1zM10 6h5v1h-5zM17 6h1v1h-1zM21 6h1v1h-1zM25 6h3v1h-3zM29 6h1v1h-1zM8 7h6v1h-6zM20 7h7v1h-7zM12 8h1v1h-1zM16 8h3v1h-3zM23 8h1v1h-1zM8 9h1v1h-1zM11 9h2v1h-2zM18 9h1v1h-1zM20 9h1v1h-1zM11 10h2v1h-2zM15 10h2v1h-2zM18 10h4v1h-4zM26 10h1v1h-1zM21 11h2v1h-2zM12 13h1v1h-1zM21 13h2v1h-2zM14 14h1v1h-1zM17 14h3v1h-3zM22 14h1v1h-1zM14 15h2v1h-2zM20 15h2v1h-2zM23 15h1v1h-1zM7 16h1v1h-1zM12 16h1v1h-1zM14 16h2v1h-2zM19 16h1v1h-1zM6 17h2v1h-2zM12 17h4v1h-4zM18 17h2v1h-2zM11 18h3v1h-3zM6 19h1v1h-1zM11 19h2v1h-2zM0 20h2v1h-2zM14 20h1v1h-1zM25 20h1v1h-1zM13 21h6v1h-6zM22 21h3v1h-3zM29 21h1v1h-1zM11 22h3v1h-3zM19 22h1v1h-1zM21 22h5v1h-5zM29 22h1v1h-1zM3 23h3v1h-3zM12 23h1v1h-1zM20 23h1v1h-1zM29 23h1v1h-1zM0 24h2v1h-2zM3 24h4v1h-4zM12 24h1v1h-1zM19 24h2v1h-2zM1 25h1v1h-1zM5 25h6v1h-6zM0 26h1v1h-1zM4 26h4v1h-4zM0 27h2v1h-2zM3 27h2v1h-2zM7 27h2v1h-2zM20 27h1v1h-1zM0 28h1v1h-1zM29 29h1v1h-1z"/>
<path fill="#57ffa8" d="M15 0h1v1h-1zM17 0h2v1h-2zM21 0h3v1h-3zM26 0h2v1h-2zM5 1h1v1h-1zM13 1h1v1h-1zM15 1h4v1h-4zM20 1h2v1h-2zM25 1h3v1h-3zM5 2h3v1h-3zM11 2h1v1h-1zM17 2h1v1h-1zM20 2h1v1h-1zM23 2h2v1h-2zM27 2h1v1h-1zM29 2h1v1h-1zM12 3h1v1h-1zM23 3h1v1h-1zM26 3h4v1h-4zM12 4h1v1h-1zM23 4h1v1h-1zM27 4h3v1h-3zM8 5h2v1h-2zM14 5h1v1h-1zM16 5h2v1h-2zM19 5h3v1h-3zM24 5h1v1h-1zM27 5h1v1h-1zM29 5h1v1h-1zM15 6h2v1h-2zM18 6h3v1h-3zM22 6h1v1h-1zM24 6h1v1h-1zM28 6h1v1h-1zM7 7h1v1h-1zM14 7h2v1h-2zM19 7h1v1h-1zM10 8h2v1h-2zM16 9h2v1h-2zM22 10h1v1h-1zM20 11h1v1h-1zM22 12h1v1h-1zM20 13h1v1h-1zM20 14h2v1h-2zM17 15h2v1h-2zM22 15h1v1h-1zM10 18h1v1h-1zM26 21h2v1h-2zM14 22h1v1h-1zM18 22h1v1h-1zM13 23h2v1h-2zM16 23h4v1h-4zM13 24h6v1h-6zM28 24h1v1h-1zM0 25h1v1h-1zM15 25h2v1h-2zM19 25h2v1h-2zM28 25h1v1h-1zM8 26h1v1h-1zM17 26h1v1h-1zM20 26h1v1h-1zM28 26h1v1h-1zM6 27h1v1h-1zM19 27h1v1h-1zM1 28h5v1h-5zM1 29h1v1h-1zM16 29h3v1h-3zM28 29h1v1h-1z"/>
<path fill="#80ff80" d="M16 0h1v1h-1zM24 0h2v1h-2zM22 1h3v1h-3zM12 2h2v1h-2zM18 2h2v1h-2zM15 3h1v1h-1zM17 3h2v1h-2zM13 4h3v1h-3zM18 4h1v1h-1zM24 4h3v1h-3zM18 5h1v1h-1zM22 5h2v1h-2zM26 5h1v1h-1zM28 5h1v1h-1zM8 6h2v1h-2zM23 6h1v1h-1zM25 21h1v1h-1zM15 22h3v1h-3zM27 22h1v1h-1zM15 23h1v1h-1zM22 23h2v1h-2zM11 25h4v1h-4zM9 26h2v1h-2zM15 26h1v1h-1zM18 26h2v1h-2zM29 26h1v1h-1zM9 27h1v1h-1zM28 27h1v1h-1zM8 28h1v1h-1zM19 28h1v1h-1zM29 28h1v1h-1zM0 29h1v1h-1zM2 29h4v1h-4zM19 29h1v1h-1z"/>
<path fill="#ffff00" d="M28 0h1v1h-1zM20 3h2v1h-2zM20 4h2v1h-2zM24 23h2v1h-2zM24 24h1v1h-1zM24 25h2v1h-2zM26 27h2v1h-2zM8 29h1v1h-1zM21 29h1v1h-1zM23 29h1v1h-1z"/>
<path fill="#ff0000" d="M29 0h1v1h-1z"/>
<path fill="#ffd100" d="M28 1h1v1h-1zM26 22h1v1h-1zM23 24h1v1h-1zM23 26h2v1h-2zM23 27h1v1h-1zM12 28h1v1h-1zM22 28h1v1h-1zM27 28h1v1h-1zM12 29h2v1h-2zM22 29h1v1h-1z"/>
<path fill="#c7ff38" d="M29 1h1v1h-1zM22 2h1v1h-1zM28 2h1v1h-1zM16 3h1v1h-1zM25 26h3v1h-3zM12 27h2v1h-2zM15 27h2v1h-2zM29 27h1v1h-1zM10 28h2v1h-2zM16 28h1v1h-1zM24 28h1v1h-1zM6 29h1v1h-1zM14 29h1v1h-1zM24 29h2v1h-2z"/>
<path fill="#00c9ff" d="M0 2h2v1h-2zM0 3h3v1h-3zM0 4h2v1h-2zM3 4h1v1h-1zM2 5h1v1h-1zM4 5h1v1h-1zM2 6h1v1h-1zM4 6h1v1h-1zM0 7h1v1h-1zM4 7h3v1h-3zM0 8h2v1h-2zM3 8h2v1h-2zM6 8h1v1h-1zM0 9h2v1h-2zM7 9h1v1h-1zM0 10h2v1h-2zM5 10h3v1h-3zM3 11h6v1h-6zM0 12h1v1h-1zM2 12h1v1h-1zM4 12h1v1h-1zM6 12h4v1h-4zM1 13h1v1h-1zM6 13h1v1h-1zM8 13h1v1h-1zM0 14h4v1h-4zM6 14h3v1h-3zM0 15h4v1h-4zM6 15h3v1h-3zM0 16h2v1h-2zM4 16h3v1h-3zM9 16h1v1h-1zM1 17h4v1h-4zM9 17h1v1h-1zM3 18h1v1h-1zM8 18h2v1h-2zM0 19h1v1h-1zM3 19h1v1h-1zM7 19h2v1h-2zM6 20h1v1h-1zM8 20h2v1h-2zM1 21h8v1h-8zM3 22h1v1h-1zM8 22h2v1h-2zM0 23h1v1h-1zM2 23h1v1h-1zM7 23h3v1h-3zM8 24h2v1h-2zM4 25h1v1h-1zM2 26h2v1h-2z"/>
<path fill="#a8ff57" d="M14 2h3v1h-3zM21 2h1v1h-1zM13 3h2v1h-2zM19 3h1v1h-1zM22 3h1v1h-1zM16 4h2v1h-2zM19 4h1v1h-1zM22 4h1v1h-1zM25 5h1v1h-1zM27 23h2v1h-2zM22 24h1v1h-1zM21 25h1v1h-1zM11 26h3v1h-3zM16 26h1v1h-1zM21 26h2v1h-2zM5 27h1v1h-1zM10 27h2v1h-2zM18 27h1v1h-1zM21 27h1v1h-1zM6 28h2v1h-2zM9 28h1v1h-1zM13 28h2v1h-2zM17 28h2v1h-2zM20 28h2v1h-2zM25 28h1v1h-1zM20 29h1v1h-1zM26 29h1v1h-1z"/>
<path fill="#00adff" d="M2 4h1v1h-1zM0 5h2v1h-2zM3 5h1v1h-1zM1 6h1v1h-1zM3 6h1v1h-1zM1 7h3v1h-3zM2 8h1v1h-1zM5 8h1v1h-1zM2 9h3v1h-3zM6 9h1v1h-1zM2 10h3v1h-3zM9 10h1v1h-1zM0 11h3v1h-3zM9 11h1v1h-1zM1 12h1v1h-1zM3 12h1v1h-1zM2 13h4v1h-4zM7 13h1v1h-1zM4 14h2v1h-2zM4 15h2v1h-2zM2 16h2v1h-2zM0 17h1v1h-1zM0 18h1v1h-1zM9 19h1v1h-1zM2 20h4v1h-4zM7 20h1v1h-1zM9 21h1v1h-1zM1 22h2v1h-2z"/>
<path fill="#00c7ff" d="M16 7h1v1h-1zM29 9h1v1h-1zM28 10h1v1h-1zM29 11h1v1h-1zM17 13h1v1h-1zM29 16h1v1h-1zM21 18h2v1h-2zM21 19h2v1h-2z"/>
<path fill="#008cff" d="M5 9h1v1h-1z"/>
<path fill="#ffa800" d="M26 23h1v1h-1zM26 28h1v1h-1zM9 29h1v1h-1zM11 29h1v1h-1z"/>
<path fill="#e5ff1a" d="M25 24h3v1h-3zM22 25h2v1h-2zM26 25h2v1h-2zM14 26h1v1h-1zM14 27h1v1h-1zM17 27h1v1h-1zM22 27h1v1h-1zM24 27h2v1h-2zM15 28h1v1h-1zM23 28h1v1h-1zM28 28h1v1h-1zM7 29h1v1h-1zM15 29h1v1h-1zM27 29h1v1h-1z"/>
<path fill="#ff8000" d="M10 29h1v1h-1z"/>
</svg></g></g>
<rect x="618" y="360" width="216" height="215.5" fill="none" stroke="#333" stroke-width="1"/>
<text class="x" x="686.4" y="601.0">10</text>
<text class="x" x="758.4" y="601.0">20</text>
<text class="x" x="830.4" y="601.0">30</text>
<text class="y" x="610.3" y="400.0">5</text>
<text class="y" x="610.3" y="435.9">10</text>
<text class="y" x="610.3" y="471.9">15</text>
<text class="y" x="610.3" y="507.8">20</text>
<text class="y" x="610.3" y="543.7">25</text>
<text class="y" x="610.3" y="579.6">30</text>
<path d="M686.40 575.50v-2.2M686.40 360.00v2.2M758.40 575.50v-2.2M758.40 360.00v2.2M830.40 575.50v-2.2M830.40 360.00v2.2M618.00 392.32h2.2M834.00 392.32h-2.2M618.00 428.24h2.2M834.00 428.24h-2.2M618.00 464.16h2.2M834.00 464.16h-2.2M618.00 500.08h2.2M834.00 500.08h-2.2M618.00 535.99h2.2M834.00 535.99h-2.2M618.00 571.91h2.2M834.00 571.91h-2.2" stroke="#333" stroke-width="1" fill="none"/>
<text class="t" x="726.0" y="349.0">November 21st</text>
<rect x="879.6" y="573.03" width="11.2" height="8.87" fill="#00008f" shape-rendering="crispEdges"/>
<rect x="879.6" y="564.65" width="11.2" height="8.87" fill="#00009f" shape-rendering="crispEdges"/>
<rect x="879.6" y="556.28" width="11.2" height="8.87" fill="#0000af" shape-rendering="crispEdges"/>
<rect x="879.6" y="547.91" width="11.2" height="8.87" fill="#0000bf" shape-rendering="crispEdges"/>
<rect x="879.6" y="539.53" width="11.2" height="8.87" fill="#0000cf" shape-rendering="crispEdges"/>
<rect x="879.6" y="531.16" width="11.2" height="8.87" fill="#0000df" shape-rendering="crispEdges"/>
<rect x="879.6" y="522.79" width="11.2" height="8.87" fill="#0000ef" shape-rendering="crispEdges"/>
<rect x="879.6" y="514.41" width="11.2" height="8.87" fill="#0000ff" shape-rendering="crispEdges"/>
<rect x="879.6" y="506.04" width="11.2" height="8.87" fill="#0010ff" shape-rendering="crispEdges"/>
<rect x="879.6" y="497.67" width="11.2" height="8.87" fill="#0020ff" shape-rendering="crispEdges"/>
<rect x="879.6" y="489.29" width="11.2" height="8.87" fill="#0030ff" shape-rendering="crispEdges"/>
<rect x="879.6" y="480.92" width="11.2" height="8.87" fill="#0040ff" shape-rendering="crispEdges"/>
<rect x="879.6" y="472.55" width="11.2" height="8.87" fill="#0050ff" shape-rendering="crispEdges"/>
<rect x="879.6" y="464.17" width="11.2" height="8.87" fill="#0060ff" shape-rendering="crispEdges"/>
<rect x="879.6" y="455.80" width="11.2" height="8.87" fill="#0070ff" shape-rendering="crispEdges"/>
<rect x="879.6" y="447.42" width="11.2" height="8.87" fill="#0080ff" shape-rendering="crispEdges"/>
<rect x="879.6" y="439.05" width="11.2" height="8.87" fill="#008fff" shape-rendering="crispEdges"/>
<rect x="879.6" y="430.68" width="11.2" height="8.87" fill="#009fff" shape-rendering="crispEdges"/>
<rect x="879.6" y="422.30" width="11.2" height="8.87" fill="#00afff" shape-rendering="crispEdges"/>
<rect x="879.6" y="413.93" width="11.2" height="8.87" fill="#00bfff" shape-rendering="crispEdges"/>
<rect x="879.6" y="405.56" width="11.2" height="8.87" fill="#00cfff" shape-rendering="crispEdges"/>
<rect x="879.6" y="397.18" width="11.2" height="8.87" fill="#00dfff" shape-rendering="crispEdges"/>
<rect x="879.6" y="388.81" width="11.2" height="8.87" fill="#00efff" shape-rendering="crispEdges"/>
<rect x="879.6" y="380.44" width="11.2" height="8.87" fill="#00ffff" shape-rendering="crispEdges"/>
<rect x="879.6" y="372.06" width="11.2" height="8.87" fill="#10ffef" shape-rendering="crispEdges"/>
<rect x="879.6" y="363.69" width="11.2" height="8.87" fill="#20ffdf" shape-rendering="crispEdges"/>
<rect x="879.6" y="355.32" width="11.2" height="8.87" fill="#30ffcf" shape-rendering="crispEdges"/>
<rect x="879.6" y="346.94" width="11.2" height="8.87" fill="#40ffbf" shape-rendering="crispEdges"/>
<rect x="879.6" y="338.57" width="11.2" height="8.87" fill="#50ffaf" shape-rendering="crispEdges"/>
<rect x="879.6" y="330.20" width="11.2" height="8.87" fill="#60ff9f" shape-rendering="crispEdges"/>
<rect x="879.6" y="321.82" width="11.2" height="8.87" fill="#70ff8f" shape-rendering="crispEdges"/>
<rect x="879.6" y="313.45" width="11.2" height="8.87" fill="#80ff80" shape-rendering="crispEdges"/>
<rect x="879.6" y="305.08" width="11.2" height="8.87" fill="#8fff70" shape-rendering="crispEdges"/>
<rect x="879.6" y="296.70" width="11.2" height="8.87" fill="#9fff60" shape-rendering="crispEdges"/>
<rect x="879.6" y="288.33" width="11.2" height="8.87" fill="#afff50" shape-rendering="crispEdges"/>
<rect x="879.6" y="279.96" width="11.2" height="8.87" fill="#bfff40" shape-rendering="crispEdges"/>
<rect x="879.6" y="271.58" width="11.2" height="8.87" fill="#cfff30" shape-rendering="crispEdges"/>
<rect x="879.6" y="263.21" width="11.2" height="8.87" fill="#dfff20" shape-rendering="crispEdges"/>
<rect x="879.6" y="254.84" width="11.2" height="8.87" fill="#efff10" shape-rendering="crispEdges"/>
<rect x="879.6" y="246.46" width="11.2" height="8.87" fill="#ffff00" shape-rendering="crispEdges"/>
<rect x="879.6" y="238.09" width="11.2" height="8.87" fill="#ffef00" shape-rendering="crispEdges"/>
<rect x="879.6" y="229.72" width="11.2" height="8.87" fill="#ffdf00" shape-rendering="crispEdges"/>
<rect x="879.6" y="221.34" width="11.2" height="8.87" fill="#ffcf00" shape-rendering="crispEdges"/>
<rect x="879.6" y="212.97" width="11.2" height="8.87" fill="#ffbf00" shape-rendering="crispEdges"/>
<rect x="879.6" y="204.60" width="11.2" height="8.87" fill="#ffaf00" shape-rendering="crispEdges"/>
<rect x="879.6" y="196.22" width="11.2" height="8.87" fill="#ff9f00" shape-rendering="crispEdges"/>
<rect x="879.6" y="187.85" width="11.2" height="8.87" fill="#ff8f00" shape-rendering="crispEdges"/>
<rect x="879.6" y="179.48" width="11.2" height="8.87" fill="#ff8000" shape-rendering="crispEdges"/>
<rect x="879.6" y="171.10" width="11.2" height="8.87" fill="#ff7000" shape-rendering="crispEdges"/>
<rect x="879.6" y="162.73" width="11.2" height="8.87" fill="#ff6000" shape-rendering="crispEdges"/>
<rect x="879.6" y="154.35" width="11.2" height="8.87" fill="#ff5000" shape-rendering="crispEdges"/>
<rect x="879.6" y="145.98" width="11.2" height="8.87" fill="#ff4000" shape-rendering="crispEdges"/>
<rect x="879.6" y="137.61" width="11.2" height="8.87" fill="#ff3000" shape-rendering="crispEdges"/>
<rect x="879.6" y="129.23" width="11.2" height="8.87" fill="#ff2000" shape-rendering="crispEdges"/>
<rect x="879.6" y="120.86" width="11.2" height="8.87" fill="#ff1000" shape-rendering="crispEdges"/>
<rect x="879.6" y="112.49" width="11.2" height="8.87" fill="#ff0000" shape-rendering="crispEdges"/>
<rect x="879.6" y="104.11" width="11.2" height="8.87" fill="#ef0000" shape-rendering="crispEdges"/>
<rect x="879.6" y="95.74" width="11.2" height="8.87" fill="#df0000" shape-rendering="crispEdges"/>
<rect x="879.6" y="87.37" width="11.2" height="8.87" fill="#cf0000" shape-rendering="crispEdges"/>
<rect x="879.6" y="78.99" width="11.2" height="8.87" fill="#bf0000" shape-rendering="crispEdges"/>
<rect x="879.6" y="70.62" width="11.2" height="8.87" fill="#af0000" shape-rendering="crispEdges"/>
<rect x="879.6" y="62.25" width="11.2" height="8.87" fill="#9f0000" shape-rendering="crispEdges"/>
<rect x="879.6" y="53.87" width="11.2" height="8.87" fill="#8f0000" shape-rendering="crispEdges"/>
<rect x="879.6" y="45.50" width="11.2" height="8.87" fill="#800000" shape-rendering="crispEdges"/>
<rect x="879.6" y="45.5" width="11.2" height="535.9" fill="none" stroke="#333" stroke-width="1"/>
<text class="c" x="896.3" y="588.3">0</text>
<text class="c" x="896.3" y="511.7">0.05</text>
<path d="M890.80 504.84h-5" stroke="#333" stroke-width="1"/>
<text class="c" x="896.3" y="435.2">0.1</text>
<path d="M890.80 428.29h-5" stroke="#333" stroke-width="1"/>
<text class="c" x="896.3" y="358.6">0.15</text>
<path d="M890.80 351.73h-5" stroke="#333" stroke-width="1"/>
<text class="c" x="896.3" y="282.1">0.2</text>
<path d="M890.80 275.17h-5" stroke="#333" stroke-width="1"/>
<text class="c" x="896.3" y="205.5">0.25</text>
<path d="M890.80 198.61h-5" stroke="#333" stroke-width="1"/>
<text class="c" x="896.3" y="129.0">0.3</text>
<path d="M890.80 122.06h-5" stroke="#333" stroke-width="1"/>
<text class="c" x="896.3" y="52.4">0.35</text>
<text class="c" x="885.3" y="36.2" text-anchor="middle" style="fill:#1c1c1c">NDVI</text>
</svg></body></html>
